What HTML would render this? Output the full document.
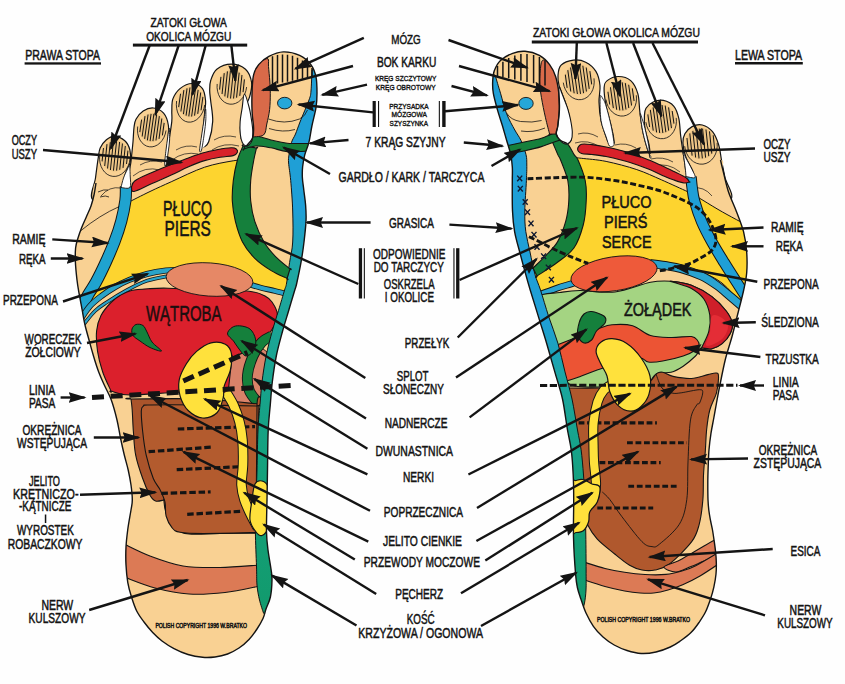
<!DOCTYPE html>
<html lang="pl"><head><meta charset="utf-8"><title>Refleksologia stóp</title>
<style>
html,body{margin:0;padding:0;background:#fefefe;}
body{width:845px;height:684px;overflow:hidden;font-family:"Liberation Sans",sans-serif;}
svg{display:block;}
text{font-family:"Liberation Sans",sans-serif;fill:#141414;}
</style></head><body>
<svg width="845" height="684" viewBox="0 0 845 684">
<defs>
<marker id="ah" markerUnits="userSpaceOnUse" markerWidth="20" markerHeight="12" refX="16" refY="5.4" orient="auto">
<path d="M0,0 L18,5.4 L0,10.8 L2.2,5.4Z" fill="#141414"/></marker>
</defs>
<rect width="845" height="684" fill="#fefefe"/>
<!-- right foot -->
<clipPath id="rc"><path d="M246.4,146 C248.5,145.8 251.3,141 252.5,138 C253.7,135 253.7,132.4 253.6,128 C253.5,123.6 252.3,117.8 252.1,111.7 C251.8,105.6 251.8,97.4 252.1,91.2 C252.3,85 252.5,79.2 253.6,74.8 C254.7,70.4 256.1,67.7 258.7,64.6 C261.2,61.5 264.8,58.5 268.9,56.4 C273,54.3 278.2,52.1 283.3,51.9 C288.4,51.7 295,53.3 299.6,55.4 C304.2,57.5 308.2,61 310.9,64.6 C313.6,68.2 315,72.1 316,76.9 C317,81.7 317,88.2 317,93.3 C317,98.4 316.9,102.1 316,107.6 C315.1,113 313.1,120.2 311.9,126 C310.7,131.8 310.1,137.6 308.9,142.4 C307.7,147.2 305.9,150.6 304.8,154.7 C303.8,158.8 303,163.1 302.6,167 C302.2,170.9 302.2,174.2 302.4,178 C302.6,181.8 303.3,185.5 303.8,190 C304.3,194.5 305.2,199.8 305.6,205 C306,210.2 306.3,215.2 306,221.4 C305.7,227.6 304.8,235.2 304,242 C303.2,248.8 302.2,255.6 301,262.4 C299.8,269.2 297.8,278.4 296.8,283 C295.8,287.6 296.2,285.4 294.8,290 C293.4,294.6 290.7,303.7 288.7,310.5 C286.7,317.3 284.7,323.5 282.6,331 C280.6,338.5 278.1,347 276.4,355.5 C274.7,364 273.3,373.8 272.3,382 C271.3,390.2 271,396.6 270.3,404.6 C269.6,412.6 268.7,419.1 268.2,430 C267.7,440.9 267.7,458.3 267.5,470 C267.3,481.7 267.2,489.7 267,500 C266.8,510.3 266.3,523.7 266.5,532 C266.7,540.3 267.2,543.8 268,550 C268.8,556.2 270.3,564 271,569 C271.7,574 272.1,575.3 272,580 C271.9,584.7 271.4,592.2 270.4,597 C269.4,601.8 267.2,605.4 266,609 C264.8,612.6 264.5,615.2 263,618.5 C261.5,621.8 259.3,625.5 257,629 C254.7,632.5 252,636.3 249,639.5 C246,642.7 242.6,645.6 239,648 C235.4,650.4 231.6,652.5 227.6,654 C223.6,655.5 219.2,656.5 215,657 C210.8,657.5 207.1,657.7 202.6,657.3 C198.1,656.9 192.8,656 188,654.5 C183.2,653 178.3,650.9 174,648.6 C169.7,646.4 165.6,643.7 162,641 C158.4,638.3 155.7,635.8 152.7,632.6 C149.7,629.4 146.7,625.6 144,622 C141.3,618.4 138.8,615.2 136.7,611 C134.6,606.8 133,601.7 131.5,597 C130,592.3 128.7,587.9 127.8,582.6 C126.9,577.3 126.3,570.9 126,565 C125.7,559.1 125.7,552.8 126,547 C126.3,541.2 126.9,536.2 127.7,530 C128.5,523.8 130.2,515 131,510 C131.8,505 132.3,504.2 132.3,500 C132.3,495.8 131.7,490 131,485 C130.3,480 129.3,475 128.2,470 C127.1,465 125.6,460.3 124.3,455 C123,449.7 121.7,443.8 120.5,438 C119.3,432.2 118.5,426.3 117,420 C115.5,413.7 113.4,405.8 111.3,400 C109.2,394.2 106.4,389.7 104.3,385 C102.2,380.3 100.5,376.8 98.7,372 C96.9,367.2 95,361.1 93.5,356 C92,350.9 90.8,346.6 89.4,341.4 C88,336.2 86.2,330.1 85,325 C83.8,319.9 83.3,316 82.3,310.7 C81.3,305.4 79.9,298.1 79,293 C78.1,287.9 77.6,285.2 77,280 C76.4,274.8 75.6,267.3 75.4,262 C75.2,256.7 75.2,252 75.6,248 C76,244 77,241.3 78,238 C79,234.7 80.1,231.6 81.5,228 C82.9,224.4 84.9,220.2 86.5,216.5 C88.1,212.8 89.7,209.8 91,206 C92.3,202.2 93.4,197.8 94.2,194 C95,190.2 91.4,185.3 96,183 C100.6,180.7 113,182.2 122,180 C131,177.8 141.2,173.5 150,170 C158.8,166.5 166.7,162.5 175,159 C183.3,155.5 192.2,151.9 200,149 C207.8,146.1 215.3,143.2 222,141.5 C228.7,139.8 235.9,138.2 240,139 C244.1,139.8 244.3,146.2 246.4,146Z"/></clipPath>
<path d="M93,200 C88.5,196.3 94.6,185 95.5,178 C96.4,171 97.4,163.2 98.2,158.2 C99,153.2 98.8,151.1 100.2,148 C101.6,144.9 104,141.8 106.4,139.8 C108.8,137.8 111.4,135.9 114.5,136.1 C117.6,136.3 122.2,138.5 124.8,140.8 C127.4,143.1 129,146.4 129.9,150 C130.8,153.6 131,158 130.2,162.3 C129.3,166.6 126.1,169.7 124.8,176 C123.5,182.3 127.8,196 122.5,200 C117.2,204 97.5,203.7 93,200Z" fill="#f9d193" stroke="#141414" stroke-width="1.2" stroke-linejoin="round" />
<path d="M127,197 C121.7,192.7 129.9,171.5 130.9,162.3 C131.9,153.1 132.5,147.6 133,141.8 C133.5,136 133.5,131.2 134,127.5 C134.5,123.8 134.5,122 136,119.3 C137.5,116.6 140.3,113 143.2,111.1 C146.1,109.2 150,107.7 153.4,108 C156.8,108.3 161.1,110.3 163.6,113.2 C166.1,116.1 167.7,120.7 168.4,125.5 C169.1,130.3 168.2,135.2 167.7,141.8 C167.2,148.4 166.3,157.3 165.5,165 C164.7,172.7 169.4,182.7 163,188 C156.6,193.3 132.3,201.3 127,197Z" fill="#f9d193" stroke="#141414" stroke-width="1.2" stroke-linejoin="round" />
<path d="M165,182 C159.6,180.4 165.1,169 165.7,162.3 C166.3,155.6 167.8,148.6 168.8,141.8 C169.8,135 171.3,126.5 171.8,121.4 C172.3,116.3 171.6,114.8 171.8,111 C172,107.2 171.5,102.6 172.9,98.9 C174.3,95.2 176.8,91.2 180,88.6 C183.2,86 188.6,83.5 192.3,83.5 C196.1,83.5 200.3,85.7 202.5,88.6 C204.7,91.5 205.2,96.8 205.6,100.9 C205.9,105 205.1,107.5 204.6,113.2 C204.1,118.9 203.3,128.5 202.5,135 C201.7,141.5 200.8,145.8 200,152 C199.2,158.2 203.8,167 198,172 C192.2,177 170.4,183.6 165,182Z" fill="#f9d193" stroke="#141414" stroke-width="1.2" stroke-linejoin="round" />
<path d="M201,165 C194.8,162.5 201.2,153.9 202.5,150 C203.8,146.1 207,146.6 208.7,141.8 C210.4,137 212.4,128.2 212.7,121.4 C213,114.6 211.2,106.1 210.7,101 C210.2,95.9 209.7,94.1 209.7,90.7 C209.7,87.3 209.5,84.1 210.7,80.5 C211.9,76.9 213.4,71.9 216.8,69.2 C220.2,66.5 226.4,64.1 231.2,64.1 C236,64.1 242.1,66.1 245.5,69.2 C248.9,72.3 250.9,77.9 251.6,82.5 C252.3,87.1 251,92 249.6,96.8 C248.2,101.5 244.9,105.9 243.4,111 C241.9,116.1 240.7,122.7 240.4,127.5 C240.1,132.3 240.8,135.7 241.4,139.8 C242,143.9 244.2,147.8 244,152 C243.8,156.2 247.2,162.8 240,165 C232.8,167.2 207.2,167.5 201,165Z" fill="#f9d193" stroke="#141414" stroke-width="1.2" stroke-linejoin="round" />
<path d="M246.4,146 C248.5,145.8 251.3,141 252.5,138 C253.7,135 253.7,132.4 253.6,128 C253.5,123.6 252.3,117.8 252.1,111.7 C251.8,105.6 251.8,97.4 252.1,91.2 C252.3,85 252.5,79.2 253.6,74.8 C254.7,70.4 256.1,67.7 258.7,64.6 C261.2,61.5 264.8,58.5 268.9,56.4 C273,54.3 278.2,52.1 283.3,51.9 C288.4,51.7 295,53.3 299.6,55.4 C304.2,57.5 308.2,61 310.9,64.6 C313.6,68.2 315,72.1 316,76.9 C317,81.7 317,88.2 317,93.3 C317,98.4 316.9,102.1 316,107.6 C315.1,113 313.1,120.2 311.9,126 C310.7,131.8 310.1,137.6 308.9,142.4 C307.7,147.2 305.9,150.6 304.8,154.7 C303.8,158.8 303,163.1 302.6,167 C302.2,170.9 302.2,174.2 302.4,178 C302.6,181.8 303.3,185.5 303.8,190 C304.3,194.5 305.2,199.8 305.6,205 C306,210.2 306.3,215.2 306,221.4 C305.7,227.6 304.8,235.2 304,242 C303.2,248.8 302.2,255.6 301,262.4 C299.8,269.2 297.8,278.4 296.8,283 C295.8,287.6 296.2,285.4 294.8,290 C293.4,294.6 290.7,303.7 288.7,310.5 C286.7,317.3 284.7,323.5 282.6,331 C280.6,338.5 278.1,347 276.4,355.5 C274.7,364 273.3,373.8 272.3,382 C271.3,390.2 271,396.6 270.3,404.6 C269.6,412.6 268.7,419.1 268.2,430 C267.7,440.9 267.7,458.3 267.5,470 C267.3,481.7 267.2,489.7 267,500 C266.8,510.3 266.3,523.7 266.5,532 C266.7,540.3 267.2,543.8 268,550 C268.8,556.2 270.3,564 271,569 C271.7,574 272.1,575.3 272,580 C271.9,584.7 271.4,592.2 270.4,597 C269.4,601.8 267.2,605.4 266,609 C264.8,612.6 264.5,615.2 263,618.5 C261.5,621.8 259.3,625.5 257,629 C254.7,632.5 252,636.3 249,639.5 C246,642.7 242.6,645.6 239,648 C235.4,650.4 231.6,652.5 227.6,654 C223.6,655.5 219.2,656.5 215,657 C210.8,657.5 207.1,657.7 202.6,657.3 C198.1,656.9 192.8,656 188,654.5 C183.2,653 178.3,650.9 174,648.6 C169.7,646.4 165.6,643.7 162,641 C158.4,638.3 155.7,635.8 152.7,632.6 C149.7,629.4 146.7,625.6 144,622 C141.3,618.4 138.8,615.2 136.7,611 C134.6,606.8 133,601.7 131.5,597 C130,592.3 128.7,587.9 127.8,582.6 C126.9,577.3 126.3,570.9 126,565 C125.7,559.1 125.7,552.8 126,547 C126.3,541.2 126.9,536.2 127.7,530 C128.5,523.8 130.2,515 131,510 C131.8,505 132.3,504.2 132.3,500 C132.3,495.8 131.7,490 131,485 C130.3,480 129.3,475 128.2,470 C127.1,465 125.6,460.3 124.3,455 C123,449.7 121.7,443.8 120.5,438 C119.3,432.2 118.5,426.3 117,420 C115.5,413.7 113.4,405.8 111.3,400 C109.2,394.2 106.4,389.7 104.3,385 C102.2,380.3 100.5,376.8 98.7,372 C96.9,367.2 95,361.1 93.5,356 C92,350.9 90.8,346.6 89.4,341.4 C88,336.2 86.2,330.1 85,325 C83.8,319.9 83.3,316 82.3,310.7 C81.3,305.4 79.9,298.1 79,293 C78.1,287.9 77.6,285.2 77,280 C76.4,274.8 75.6,267.3 75.4,262 C75.2,256.7 75.2,252 75.6,248 C76,244 77,241.3 78,238 C79,234.7 80.1,231.6 81.5,228 C82.9,224.4 84.9,220.2 86.5,216.5 C88.1,212.8 89.7,209.8 91,206 C92.3,202.2 93.4,197.8 94.2,194 C95,190.2 91.4,185.3 96,183 C100.6,180.7 113,182.2 122,180 C131,177.8 141.2,173.5 150,170 C158.8,166.5 166.7,162.5 175,159 C183.3,155.5 192.2,151.9 200,149 C207.8,146.1 215.3,143.2 222,141.5 C228.7,139.8 235.9,138.2 240,139 C244.1,139.8 244.3,146.2 246.4,146Z" fill="#f9d193"/>
<path d="M101,196 q8,-10 20,-8 M133,176 q12,-10 27,-6 M140,165 q10,-6 22,-3 M172,160 q12,-9 26,-6 M176,150 q10,-6 21,-3 M212,150 q12,-8 27,-4 M214,140 q10,-6 22,-3" fill="none" stroke="#141414" stroke-width="0.7"/>
<g transform="rotate(6 232 84.5)">
<ellipse cx="232" cy="84.5" rx="13.3" ry="14.8" fill="#ecc485"/>
<path d="M220.2,78.1 V90.9 M223.1,74 V95 M226.1,71.9 V97.1 M229,70.8 V98.2 M232,70.4 V98.6 M235,70.8 V98.2 M237.9,71.9 V97.1 M240.9,74 V95 M243.8,78.1 V90.9 " stroke="#141414" stroke-width="1" fill="none"/>
<path d="M217.2,85.5 A14.8,18.8 0 0 0 246.8,85.5" stroke="#141414" stroke-width="0.8" fill="none"/>
</g>
<g transform="rotate(8 190.8 102)">
<ellipse cx="190.8" cy="102" rx="12.7" ry="15.3" fill="#ecc485"/>
<path d="M179.5,95.3 V108.7 M182.3,91.2 V112.8 M185.2,89 V115 M188,87.8 V116.2 M190.8,87.5 V116.5 M193.6,87.8 V116.2 M196.4,89 V115 M199.3,91.2 V112.8 M202.1,95.3 V108.7 " stroke="#141414" stroke-width="1" fill="none"/>
<path d="M176.6,103 A14.2,19.3 0 0 0 205,103" stroke="#141414" stroke-width="0.8" fill="none"/>
</g>
<g transform="rotate(8 152 127.5)">
<ellipse cx="152" cy="127.5" rx="12.8" ry="14.5" fill="#ecc485"/>
<path d="M140.6,121.2 V133.8 M143.5,117.2 V137.8 M146.3,115.2 V139.8 M149.2,114.1 V140.9 M152,113.7 V141.3 M154.8,114.1 V140.9 M157.7,115.2 V139.8 M160.5,117.2 V137.8 M163.4,121.2 V133.8 " stroke="#141414" stroke-width="1" fill="none"/>
<path d="M137.7,128.5 A14.3,18.5 0 0 0 166.3,128.5" stroke="#141414" stroke-width="0.8" fill="none"/>
</g>
<g transform="rotate(6 115 156)">
<ellipse cx="115" cy="156" rx="13.8" ry="15.5" fill="#ecc485"/>
<path d="M102.7,149.3 V162.7 M105.8,145 V167 M108.9,142.8 V169.2 M111.9,141.6 V170.4 M115,141.3 V170.7 M118.1,141.6 V170.4 M121.1,142.8 V169.2 M124.2,145 V167 M127.3,149.3 V162.7 " stroke="#141414" stroke-width="1" fill="none"/>
<path d="M99.7,157 A15.3,19.5 0 0 0 130.3,157" stroke="#141414" stroke-width="0.8" fill="none"/>
</g>
<g clip-path="url(#rc)">
<path d="M127,203 C127.5,202.7 123.2,204.9 127,203 C130.8,201.1 142.5,195.1 150,191.5 C157.5,187.9 162.7,185.6 171.8,181.5 C180.9,177.4 194.4,170.6 204.6,167.2 C214.8,163.8 225.6,162.1 233.2,160.8 C240.8,159.5 247.2,159.7 250,159.5 C252.8,159.3 248,152.8 250,159.5 C252,166.2 257.8,184.9 262,200 C266.2,215.1 270.2,238 275,250 C279.8,262 288.3,268.3 291,272 C293.7,275.7 291.3,268.3 291,272 C290.7,275.7 289.3,290.3 289,294 C288.7,297.7 292.2,294.7 289,294 C285.8,293.3 276,291.5 270,290 C264,288.5 259.5,287.8 252.8,285 C246.1,282.2 237.3,276.2 230,273 C222.7,269.8 219.7,266.5 209,266 C198.3,265.5 179.3,267.8 166,270 C152.7,272.2 139.8,275.2 129,279.5 C118.2,283.8 108.3,290.9 101.5,296 C94.7,301.1 90.2,307.7 88,310 C85.8,312.3 87.7,313.3 88,310 C88.3,306.7 88,297 90,290 C92,283 96.7,275.3 100,268 C103.3,260.7 106.7,254 110,246 C113.3,238 117.7,226.8 120,220 C122.3,213.2 122.8,207.8 124,205 C125.2,202.2 126.5,203.3 127,203Z" fill="#fdd42f" stroke="#141414" stroke-width="1" stroke-linejoin="round" />
<path d="M254,150 C254.5,145 248,149.7 254,150 C260,150.3 284,151.7 290,152 C296,152.3 289.5,142.2 290,152 C290.5,161.8 292.7,194.7 293,211 C293.3,227.3 292.7,240.5 292,250 C291.3,259.5 289.5,265 289,268 C288.5,271 292.2,270.7 289,268 C285.8,265.3 275.5,259.2 270,252 C264.5,244.8 259.2,233.7 256,225 C252.8,216.3 251.8,207.5 251,200 C250.2,192.5 250.5,188.3 251,180 C251.5,171.7 253.5,155 254,150Z" fill="#f9d193" stroke="none" stroke-width="1.2" stroke-linejoin="round" />
<path d="M125.9,186.5 C125.8,188.8 126.2,194.8 125.4,200.5 C124.6,206.2 123.1,214.2 121.3,221 C119.5,227.8 117.2,234.6 114.6,241.4 C112,248.2 109,255.1 105.9,261.9 C102.8,268.7 99,276.5 96,282 C93,287.5 90.5,290.5 88,295 C85.5,299.5 83,304.8 81,309 C79,313.2 76.8,318.2 76,320" fill="none" stroke="#141414" stroke-width="12.2" stroke-linecap="butt" stroke-linejoin="round"/>
<path d="M125.9,186.5 C125.8,188.8 126.2,194.8 125.4,200.5 C124.6,206.2 123.1,214.2 121.3,221 C119.5,227.8 117.2,234.6 114.6,241.4 C112,248.2 109,255.1 105.9,261.9 C102.8,268.7 99,276.5 96,282 C93,287.5 90.5,290.5 88,295 C85.5,299.5 83,304.8 81,309 C79,313.2 76.8,318.2 76,320" fill="none" stroke="#1fa3cf" stroke-width="10.2" stroke-linecap="butt" stroke-linejoin="round"/>
<path d="M80,320 C81.7,317.7 86.4,310 90,306 C93.6,302 97.3,299.2 101.5,296 C105.7,292.8 110.4,289.7 115,287 C119.6,284.3 123.7,282.2 129,280 C134.3,277.8 140.8,275.6 147,274 C153.2,272.4 160.5,271.2 166,270.5 C171.5,269.8 177.7,270.1 180,270" fill="none" stroke="#141414" stroke-width="6.2" stroke-linecap="butt" stroke-linejoin="round"/>
<path d="M80,320 C81.7,317.7 86.4,310 90,306 C93.6,302 97.3,299.2 101.5,296 C105.7,292.8 110.4,289.7 115,287 C119.6,284.3 123.7,282.2 129,280 C134.3,277.8 140.8,275.6 147,274 C153.2,272.4 160.5,271.2 166,270.5 C171.5,269.8 177.7,270.1 180,270" fill="none" stroke="#2aa3c8" stroke-width="4.5" stroke-linecap="butt" stroke-linejoin="round"/>
<path d="M245,283 C247.5,283.8 255,286.2 260,287.5 C265,288.8 270,289.8 275,291 C280,292.2 287.5,294.3 290,295" fill="none" stroke="#141414" stroke-width="5.8" stroke-linecap="butt" stroke-linejoin="round"/>
<path d="M245,283 C247.5,283.8 255,286.2 260,287.5 C265,288.8 270,289.8 275,291 C280,292.2 287.5,294.3 290,295" fill="none" stroke="#2aa3c8" stroke-width="4" stroke-linecap="butt" stroke-linejoin="round"/>
<path d="M84,324 C85.8,321.8 91.3,314.5 95,311 C98.7,307.5 100.8,306.2 106,302.8 C111.2,299.4 119.6,294.2 126.4,290.5 C133.2,286.8 140.4,283.1 146.9,280.8 C153.4,278.5 160.6,277.4 165.3,276.6 C170,275.8 173.4,276.1 175,276" fill="none" stroke="#141414" stroke-width="3.7" stroke-linecap="butt" stroke-linejoin="round"/>
<path d="M84,324 C85.8,321.8 91.3,314.5 95,311 C98.7,307.5 100.8,306.2 106,302.8 C111.2,299.4 119.6,294.2 126.4,290.5 C133.2,286.8 140.4,283.1 146.9,280.8 C153.4,278.5 160.6,277.4 165.3,276.6 C170,275.8 173.4,276.1 175,276" fill="none" stroke="#2aa3c8" stroke-width="2.2" stroke-linecap="butt" stroke-linejoin="round"/>
<path d="M80.4,231 Q100,215 119.2,206.6 M98,192 q6,-3 10,-2 M100,197 q6,-2 9,0" fill="none" stroke="#141414" stroke-width="0.8"/>
<path d="M131.5,187 C131.1,186.2 130.9,188.1 131.5,187 C132.1,185.9 131.6,183.1 135,180.7 C138.4,178.3 145.9,175.2 152,172.5 C158.1,169.8 166,166.6 171.8,164.3 C177.6,162 181.9,160.4 187,158.5 C192.1,156.6 197.3,154.5 202.5,153 C207.7,151.5 213.2,150.4 218,149.5 C222.8,148.6 228.1,147.9 231.2,147.8 C234.2,147.7 235.3,148.2 236.3,149 C237.3,149.8 237.8,151.4 237.3,152.5 C236.8,153.6 236.1,154.8 233.2,155.6 C230.3,156.4 224.8,156.4 220,157.2 C215.2,158 209.9,159 204.6,160.6 C199.3,162.2 193.5,164.6 188,167 C182.5,169.4 177.8,172.1 171.8,174.8 C165.8,177.6 158.3,180.7 152,183.5 C145.7,186.3 137.4,190.9 134,191.5 C130.6,192.1 131.9,187.8 131.5,187Z" fill="#d8212a" stroke="#141414" stroke-width="1.1" stroke-linejoin="round" />
<path d="M225,357 L258,345 L267,352 L262,404.5 L225,404.5Z" fill="#d98269" stroke="#141414" stroke-width="0.9"/>
<path d="M96.6,331 C97.2,325 98.6,320.2 101,315.5 C103.4,310.8 107.8,305.8 111,302.5 C114.2,299.2 116.6,297.5 120,295.5 C123.4,293.5 126.4,291.6 131.4,290.5 C136.4,289.4 143.9,289 150,288.6 C156.1,288.2 162.5,288.1 168,288.2 C173.5,288.3 175.2,288.7 183,289 C190.8,289.3 203.7,289.6 215,290 C226.3,290.4 242.5,290.5 250.8,291.5 C259.1,292.5 261.5,294.2 265,296 C268.5,297.8 269.9,298.9 272,302 C274.1,305.1 277.3,310.1 277.4,314.6 C277.4,319.1 274.9,324.6 272.3,329 C269.7,333.4 265.7,337.6 262,341 C258.3,344.4 255,346.8 250,349.5 C245,352.2 235,356.2 232,357.5 C229,358.8 232.7,351.6 232,357.5 C231.3,363.4 228.7,387.1 228,393 C227.3,398.9 235.5,393.2 228,393 C220.5,392.8 199.3,391.7 183,392 C166.7,392.3 142,395.2 130,395 C118,394.8 114.2,391.7 111,391 C107.8,390.3 112.4,394.2 111,391 C109.6,387.8 104.9,378.6 102.7,372 C100.5,365.4 98.6,358.4 97.6,351.6 C96.6,344.8 96,337 96.6,331Z" fill="#db202c" stroke="#141414" stroke-width="1.1" stroke-linejoin="round" />
<ellipse cx="209.5" cy="279.5" rx="43.5" ry="16.6" transform="rotate(4 209.5 279.5)" fill="#e68866" stroke="#141414" stroke-width="0.9"/>
<path d="M132,329 C132.5,327.2 134.2,325.1 136,324.5 C137.8,323.9 141.2,324.2 143,325.5 C144.8,326.8 145.5,329.2 147,332 C148.5,334.8 149.6,338.8 152,342 C154.4,345.2 161.8,350.1 161.5,351 C161.2,351.9 153.6,349.2 150,347.5 C146.4,345.8 142.8,343 140,341 C137.2,339 134.3,337.5 133,335.5 C131.7,333.5 131.5,330.8 132,329Z" fill="#15803c" stroke="#141414" stroke-width="1" stroke-linejoin="round" />
<path d="M272,336 C270.3,337 265.2,338.7 262,342 C258.8,345.3 255.4,350.5 253,356 C250.6,361.5 248.1,369.2 247.5,375 C246.9,380.8 247.6,386.2 249.5,391 C251.4,395.8 257.4,401.8 259,404" fill="none" stroke="#141414" stroke-width="10.8" stroke-linecap="butt" stroke-linejoin="round"/>
<path d="M272,336 C270.3,337 265.2,338.7 262,342 C258.8,345.3 255.4,350.5 253,356 C250.6,361.5 248.1,369.2 247.5,375 C246.9,380.8 247.6,386.2 249.5,391 C251.4,395.8 257.4,401.8 259,404" fill="none" stroke="#15803c" stroke-width="9" stroke-linecap="butt" stroke-linejoin="round"/>
<path d="M227.5,334 C227.2,331.8 230,328.9 232,327.5 C234,326.1 236.6,325.6 239.6,325.8 C242.6,326.1 247.3,326.8 250,329 C252.7,331.2 254.8,335.5 255.5,339 C256.2,342.5 255.6,347.2 254,350 C252.4,352.8 248.5,356.2 246,356 C243.5,355.8 241.1,351.5 239,349 C236.9,346.5 235.4,343.5 233.5,341 C231.6,338.5 227.8,336.2 227.5,334Z" fill="#15803c" stroke="#141414" stroke-width="1" stroke-linejoin="round" />
<path d="M131,399 C130.8,397.2 119.5,399 131,399 C142.5,399 178.7,398.2 200,399 C221.3,399.8 249.2,403.2 259,404 C268.8,404.8 259.3,393 259,404 C258.7,415 257.6,448.5 257,470 C256.4,491.5 255.8,522.5 255.5,533 C255.2,543.5 261.4,532.9 255.5,533 C249.6,533.1 231.1,533.3 220,533.5 C208.9,533.7 196.2,534.8 189,534 C181.8,533.2 180.8,532.3 177,529 C173.2,525.7 168.7,518.8 166.5,514 C164.3,509.2 164.2,502.3 163.8,500 C163.4,497.7 165.2,499.8 163.8,500 C162.4,500.2 157.9,501.8 155.6,501 C153.3,500.2 152,498.8 149.8,495 C147.7,491.2 145,485.1 142.7,478.5 C140.3,471.9 137.2,463 135.7,455.2 C134.1,447.4 134,439.3 133.4,431.8 C132.8,424.3 132.6,415.5 132.2,410 C131.8,404.5 131.2,400.8 131,399Z" fill="#aa542b" stroke="#141414" stroke-width="1.1" stroke-linejoin="round" />
<path d="M141.3,411 C141.4,406.7 142.1,407 143.5,406 C144.9,405 140.6,405.2 150,405 C159.4,404.8 182.2,404.8 200,405 C217.8,405.2 247.5,405.8 257,406 C266.5,406.2 257.2,384.9 257,406 C256.8,427.1 256.2,511.4 256,532.5 C255.8,553.6 264.8,532.3 256,532.5 C247.2,532.7 216.1,533.5 203.5,533.5 C190.9,533.5 185.4,533.3 180.2,532.3 C174.9,531.3 174.3,530.4 172,527.7 C169.7,525 167.3,520.3 166.1,516 C164.9,511.7 166,506.3 165,502 C164,497.7 162.2,494.1 160.3,490.2 C158.4,486.3 155.7,484.3 153.3,478.5 C151,472.7 148,463 146.2,455.2 C144.4,447.4 143.5,439.2 142.7,431.8 C141.9,424.4 141.2,415.3 141.3,411Z" fill="#b35b2e" stroke="#141414" stroke-width="1.1" stroke-linejoin="round" />
<path d="M177.8,429 L255,426.6" stroke="#141414" stroke-width="3.2" stroke-dasharray="6.5,2.8" fill="none"/>
<path d="M148.6,451.7 L212.9,447" stroke="#141414" stroke-width="3.2" stroke-dasharray="6.5,2.8" fill="none"/>
<path d="M176.7,469.7 L246.8,466.4" stroke="#141414" stroke-width="3.2" stroke-dasharray="6.5,2.8" fill="none"/>
<path d="M161.4,493.3 L210.6,491.9" stroke="#141414" stroke-width="3.2" stroke-dasharray="6.5,2.8" fill="none"/>
<path d="M187.2,514.3 L242.1,511.3" stroke="#141414" stroke-width="3.2" stroke-dasharray="6.5,2.8" fill="none"/>
<path d="M124,544 C124,538.5 119.7,542 124,544 C128.3,546 140.2,552.3 150,556 C159.8,559.7 171.3,564.1 183,566 C194.7,567.9 207.2,567.7 220,567.5 C232.8,567.3 253.3,565.4 260,565 C266.7,564.6 260,561.5 260,565 C260,568.5 260,582.5 260,586 C260,589.5 265.8,584.9 260,586 C254.2,587.1 236.8,591.2 225,592.5 C213.2,593.8 200.7,594.8 189,594 C177.3,593.2 165.8,590.8 155,588 C144.2,585.2 129.2,578.8 124,577 C118.8,575.2 124,582.5 124,577 C124,571.5 124,549.5 124,544Z" fill="#dc7a55" stroke="#141414" stroke-width="1.1" stroke-linejoin="round" />
<path d="M226,392 C227.2,394.2 231.2,400 233.5,405 C235.8,410 238,416.2 239.5,422 C241,427.8 241.9,432.8 242.5,440 C243.1,447.2 243.2,457.5 243,465 C242.8,472.5 241.2,479.2 241.5,485 C241.8,490.8 242.9,495 244.5,500 C246.1,505 248.8,510.3 251,515 C253.2,519.7 256.8,525.8 258,528" fill="none" stroke="#141414" stroke-width="10.5" stroke-linecap="butt" stroke-linejoin="round"/>
<path d="M226,392 C227.2,394.2 231.2,400 233.5,405 C235.8,410 238,416.2 239.5,422 C241,427.8 241.9,432.8 242.5,440 C243.1,447.2 243.2,457.5 243,465 C242.8,472.5 241.2,479.2 241.5,485 C241.8,490.8 242.9,495 244.5,500 C246.1,505 248.8,510.3 251,515 C253.2,519.7 256.8,525.8 258,528" fill="none" stroke="#ffe13c" stroke-width="8.5" stroke-linecap="butt" stroke-linejoin="round"/>
<path d="M211,342.8 C215.8,341.6 221.9,342.4 225.3,344.2 C228.7,346 230.6,349.1 231.4,353.4 C232.2,357.7 231.6,364.3 230.4,369.8 C229.2,375.3 225.4,381.5 224.2,386.2 C223,390.9 224.4,393.6 223.2,398 C222,402.4 220.4,409.5 217,412.8 C213.6,416.1 207.5,418.3 202.7,418 C197.9,417.7 192.2,414.4 188.4,410.8 C184.7,407.2 181.7,401.5 180.2,396.4 C178.7,391.3 178.2,385.4 179.2,380 C180.2,374.6 183.5,368.5 186.4,363.7 C189.3,358.9 192.5,354.9 196.6,351.4 C200.7,347.9 206.2,344 211,342.8Z" fill="#ffe13c" stroke="#141414" stroke-width="1.2" stroke-linejoin="round" />
</g>
<linearGradient id="rg" gradientUnits="userSpaceOnUse" x1="0" y1="60" x2="0" y2="620"><stop offset="0" stop-color="#1f9fd6"/><stop offset="0.27" stop-color="#1f9fd6"/><stop offset="0.38" stop-color="#1ea7a2"/><stop offset="0.75" stop-color="#13a07a"/><stop offset="1" stop-color="#129a6c"/></linearGradient>
<g clip-path="url(#rc)">
<path d="M312,70 C311.8,73.5 311.5,86 311,91 C310.5,96 310.8,94.8 309,100 C307.2,105.2 302.2,116.3 300,122 C297.8,127.7 296.9,130.6 295.5,134 C294.1,137.4 292.6,138.9 291.5,142.4 C290.4,145.9 289.5,151.6 289,155 C288.5,158.4 288.3,158.8 288.6,163 C288.9,167.2 290,172.5 290.7,180.5 C291.4,188.5 292.4,200.8 292.7,211 C293,221.2 293.2,233.4 292.7,242 C292.2,250.6 290.6,255.6 289.6,262.4 C288.6,269.2 287.4,278.4 286.6,283 C285.8,287.6 286,285.4 284.6,290 C283.2,294.6 280.6,303.7 278.5,310.5 C276.4,317.3 274.4,323.5 272.3,331 C270.2,338.5 267.9,347 266.2,355.5 C264.5,364 263,373.8 262,382 C261,390.2 260.7,396.6 260,404.6 C259.3,412.6 258.5,419.1 258,430 C257.5,440.9 257.3,458.3 257,470 C256.7,481.7 256.3,489.7 256,500 C255.7,510.3 255.3,521 255.4,532 C255.5,543 256.2,557.2 256.5,566 C256.8,574.8 256.5,579.3 257,585 C257.5,590.7 258.4,595.3 259.5,600 C260.6,604.7 262.8,610.8 263.5,613 L290,640 L340,600 L340,60Z" fill="url(#rg)" stroke="#141414" stroke-width="1"/>
<path d="M255,484 C256.7,480.8 259.8,480.5 262,481 C264.2,481.5 266.7,482.2 268,487 C269.3,491.8 270,503.2 270,510 C270,516.8 269.3,523.8 268,528 C266.7,532.2 264,534.8 262,535.5 C260,536.2 258,534.6 256,532 C254,529.4 250.7,525.3 250,520 C249.3,514.7 251.2,506 252,500 C252.8,494 253.3,487.2 255,484Z" fill="#ffe13c" stroke="#141414" stroke-width="1.2" stroke-linejoin="round" />
</g>
<g clip-path="url(#rc)">
<path d="M243,146 C240.8,145.7 243.9,143.7 243,146 C242.1,148.3 239,154.2 237.4,160 C235.8,165.8 234.2,173.7 233.3,180.5 C232.5,187.3 232,194.2 232.3,201 C232.7,207.8 233.7,214.6 235.4,221.4 C237.1,228.2 239.3,235.8 242.5,242 C245.7,248.2 250,253.5 254.8,258.3 C259.6,263.1 265.8,267.2 271.2,270.6 C276.6,274 284.4,277.2 287,278.5 C289.6,279.8 286.5,280.1 287,278.5 C287.5,276.9 289.5,270.6 290,269 C290.5,267.4 292.4,271.1 290,269 C287.6,266.9 279.6,260.8 275.3,256.3 C271,251.8 267.4,247.8 264,242 C260.6,236.2 257,228.2 254.8,221.4 C252.6,214.6 251.4,207.8 250.7,201 C250,194.2 250.2,187.3 250.7,180.5 C251.2,173.7 252.8,165.4 253.8,160 C254.8,154.6 256.1,150 256.5,148 C256.9,146 258.8,148.3 256.5,148 C254.2,147.7 245.2,146.3 243,146Z" fill="#15803c" stroke="#141414" stroke-width="1.1" stroke-linejoin="round" />
<path d="M249,136.5 C249.8,134.4 247.8,136.6 249,136.5 C250.2,136.4 252.3,135.2 256,135.8 C259.7,136.4 265.8,138.8 271,140 C276.2,141.2 280.6,142.6 287.4,143.2 C294.2,143.8 307.9,143.4 312,143.4 C316.1,143.4 312.3,142.1 312,143.4 C311.7,144.7 310.3,149.7 310,151 C309.7,152.3 313.8,150.9 310,151 C306.2,151.1 293.9,152.1 287.4,151.6 C280.9,151.1 276.2,148.7 271,147.8 C265.8,146.9 260.5,145.8 256,146 C251.5,146.2 246,148.5 244,149 C242,149.5 243.2,151.1 244,149 C244.8,146.9 248.2,138.6 249,136.5Z" fill="#15803c" stroke="#141414" stroke-width="1.1" stroke-linejoin="round" />
<path d="M262,61 C264.2,59.8 266.9,57.9 268,58.8 C269.1,59.7 268.2,62.9 268.5,66.6 C268.8,70.3 269.5,76.5 269.8,81 C270.1,85.5 270.3,88.5 270.3,93.3 C270.3,98.1 270.2,104.5 269.6,109.6 C269,114.7 267.8,119.8 266.8,124 C265.8,128.2 266.3,132.8 263.5,135 C260.7,137.2 252.2,136.7 250,137 C247.8,137.3 250.3,141.5 250,137 C249.7,132.5 248,119.5 248,110 C248,100.5 248.8,87.3 250,80 C251.2,72.7 253,69.2 255,66 C257,62.8 259.8,62.2 262,61Z" fill="#d96a49" stroke="#141414" stroke-width="1" stroke-linejoin="round" />
<path d="M272.5,56.3 V84.5 M277.5,55 V83.6 M282.5,54.4 V82.6 M287.5,54.7 V81.7 M292.5,55.8 V80.7 M297.5,57.8 V79.8 M302.5,60.5 V78.8 M307.5,64.2 V77.9 M312,68.1 V77 " stroke="#141414" stroke-width="1.5" fill="none"/>
<ellipse cx="284.7" cy="103.1" rx="7.2" ry="5.8" fill="#25a7d8" stroke="#141414" stroke-width="0.9"/>
<path d="M268.5,119 q16,6 31,0 q6,-3 8,-9 M269,128.5 q14,4.5 26,1" fill="none" stroke="#141414" stroke-width="0.8"/>
</g>
<path d="M244.5,94 C245.7,94.1 248.1,103.3 249.3,108 C250.5,112.7 251.2,118 251.8,122 C252.4,126 252.8,128.9 252.8,132 C252.8,135.1 252.7,138.3 252,140.5 C251.3,142.7 249.6,144.4 248.5,145.3 C247.4,146.2 246.5,146.3 245.5,145.8 C244.5,145.3 243.2,144.3 242.3,142.4 C241.4,140.5 240.7,137.6 240.3,134.2 C239.9,130.8 239.8,126.4 240.1,122 C240.4,117.6 241.5,112.3 242.2,107.6 C242.9,102.9 243.3,93.9 244.5,94Z" fill="#fefefe" stroke="#141414" stroke-width="1.1" stroke-linejoin="round" />
<path d="M129.5,166 C130,167 130.1,172.4 130.2,176 C130.3,179.6 131.4,185.6 129.9,187.5 C128.4,189.4 122.5,187.5 121,187.5 C119.5,187.5 120.6,189.1 121,187.5 C121.4,185.9 122.5,180.9 123.5,178 C124.5,175.1 126,172 127,170 C128,168 129,165 129.5,166Z" fill="#fefefe" stroke="#141414" stroke-width="0.9" stroke-linejoin="round" />
<path d="M169.2,128 C169.5,128.3 169.8,136 169.6,140 C169.4,144 168.8,147.9 168.2,152 C167.6,156.1 166.8,162.2 166.2,164.3 C165.6,166.4 164.6,166.7 164.6,164.3 C164.6,161.9 165.5,154.4 166,150 C166.5,145.6 167.1,141.7 167.6,138 C168.1,134.3 168.9,127.7 169.2,128Z" fill="#fefefe" stroke="#141414" stroke-width="0.9" stroke-linejoin="round" />
<path d="M205.6,109 C205.9,109 206,115.8 205.8,120 C205.6,124.2 204.9,129 204.2,134 C203.5,139 202.3,147.3 201.5,150 C200.7,152.7 199.5,152.7 199.6,150 C199.7,147.3 201.1,139 201.8,134 C202.5,129 203.4,124.2 204,120 C204.6,115.8 205.3,109 205.6,109Z" fill="#fefefe" stroke="#141414" stroke-width="0.9" stroke-linejoin="round" />
<path d="M246.4,146 C247.4,144.7 251.3,141 252.5,138 C253.7,135 253.7,132.4 253.6,128 C253.5,123.6 252.3,117.8 252.1,111.7 C251.8,105.6 251.8,97.4 252.1,91.2 C252.3,85 252.5,79.2 253.6,74.8 C254.7,70.4 256.1,67.7 258.7,64.6 C261.2,61.5 264.8,58.5 268.9,56.4 C273,54.3 278.2,52.1 283.3,51.9 C288.4,51.7 295,53.3 299.6,55.4 C304.2,57.5 308.2,61 310.9,64.6 C313.6,68.2 315,72.1 316,76.9 C317,81.7 317,88.2 317,93.3 C317,98.4 316.9,102.1 316,107.6 C315.1,113 313.1,120.2 311.9,126 C310.7,131.8 310.1,137.6 308.9,142.4 C307.7,147.2 305.9,150.6 304.8,154.7 C303.8,158.8 303,163.1 302.6,167 C302.2,170.9 302.2,174.2 302.4,178 C302.6,181.8 303.3,185.5 303.8,190 C304.3,194.5 305.2,199.8 305.6,205 C306,210.2 306.3,215.2 306,221.4 C305.7,227.6 304.8,235.2 304,242 C303.2,248.8 302.2,255.6 301,262.4 C299.8,269.2 297.8,278.4 296.8,283 C295.8,287.6 296.2,285.4 294.8,290 C293.4,294.6 290.7,303.7 288.7,310.5 C286.7,317.3 284.7,323.5 282.6,331 C280.6,338.5 278.1,347 276.4,355.5 C274.7,364 273.3,373.8 272.3,382 C271.3,390.2 271,396.6 270.3,404.6 C269.6,412.6 268.7,419.1 268.2,430 C267.7,440.9 267.7,458.3 267.5,470 C267.3,481.7 267.2,489.7 267,500 C266.8,510.3 266.3,523.7 266.5,532 C266.7,540.3 267.2,543.8 268,550 C268.8,556.2 270.3,564 271,569 C271.7,574 272.1,575.3 272,580 C271.9,584.7 271.4,592.2 270.4,597 C269.4,601.8 267.2,605.4 266,609 C264.8,612.6 264.5,615.2 263,618.5 C261.5,621.8 259.3,625.5 257,629 C254.7,632.5 252,636.3 249,639.5 C246,642.7 242.6,645.6 239,648 C235.4,650.4 231.6,652.5 227.6,654 C223.6,655.5 219.2,656.5 215,657 C210.8,657.5 207.1,657.7 202.6,657.3 C198.1,656.9 192.8,656 188,654.5 C183.2,653 178.3,650.9 174,648.6 C169.7,646.4 165.6,643.7 162,641 C158.4,638.3 155.7,635.8 152.7,632.6 C149.7,629.4 146.7,625.6 144,622 C141.3,618.4 138.8,615.2 136.7,611 C134.6,606.8 133,601.7 131.5,597 C130,592.3 128.7,587.9 127.8,582.6 C126.9,577.3 126.3,570.9 126,565 C125.7,559.1 125.7,552.8 126,547 C126.3,541.2 126.9,536.2 127.7,530 C128.5,523.8 130.2,515 131,510 C131.8,505 132.3,504.2 132.3,500 C132.3,495.8 131.7,490 131,485 C130.3,480 129.3,475 128.2,470 C127.1,465 125.6,460.3 124.3,455 C123,449.7 121.7,443.8 120.5,438 C119.3,432.2 118.5,426.3 117,420 C115.5,413.7 113.4,405.8 111.3,400 C109.2,394.2 106.4,389.7 104.3,385 C102.2,380.3 100.5,376.8 98.7,372 C96.9,367.2 95,361.1 93.5,356 C92,350.9 90.8,346.6 89.4,341.4 C88,336.2 86.2,330.1 85,325 C83.8,319.9 83.3,316 82.3,310.7 C81.3,305.4 79.9,298.1 79,293 C78.1,287.9 77.6,285.2 77,280 C76.4,274.8 75.6,267.3 75.4,262 C75.2,256.7 75.2,252 75.6,248 C76,244 77,241.3 78,238 C79,234.7 80.1,231.6 81.5,228 C82.9,224.4 84.9,220.2 86.5,216.5 C88.1,212.8 89.7,209.8 91,206 C92.3,202.2 93.4,197.8 94.2,194 C95,190.2 95.7,184.8 96,183" fill="none" stroke="#141414" stroke-width="1.4" stroke-linejoin="round"/>
<path d="M92,397.5 L295,385.2" stroke="#141414" stroke-width="5" stroke-dasharray="12,6.7" fill="none"/>
<path d="M183.3,381 L247.5,352.5" stroke="#141414" stroke-width="5" stroke-dasharray="11.5,5.3" fill="none"/>
<text x="163" y="216" font-size="21.5" textLength="49" lengthAdjust="spacingAndGlyphs" fill="#141414" stroke="#141414" stroke-width="0.55">PŁUCO</text>
<text x="164.6" y="236.3" font-size="21.5" textLength="46.2" lengthAdjust="spacingAndGlyphs" fill="#141414" stroke="#141414" stroke-width="0.55">PIERŚ</text>
<text x="146" y="320.8" font-size="21.5" textLength="75.5" lengthAdjust="spacingAndGlyphs" fill="#2a0608" stroke="#2a0608" stroke-width="0.55">WĄTROBA</text>
<text x="155.4" y="627.6" font-size="7.2" textLength="91.6" lengthAdjust="spacingAndGlyphs" fill="#141414" stroke="#141414" stroke-width="0.55">POLISH COPYRIGHT 1996 W.BRATKO</text>
<!-- left foot -->
<clipPath id="lc"><path d="M567,143.4 C564,143.8 561.8,141.6 560,140 C558.2,138.4 556.5,136.4 556.1,134.1 C555.7,131.8 557.2,130.1 557.8,126 C558.3,121.9 559.2,115.1 559.4,109.6 C559.6,104.1 559.4,98.7 558.8,93.2 C558.2,87.7 557.2,81.6 555.7,76.8 C554.2,72 552.3,68.2 549.6,64.6 C546.9,61 543.5,57.6 539.4,55.4 C535.3,53.2 529.5,51.6 525,51.3 C520.5,50.9 516.8,51.8 512.7,53.3 C508.6,54.8 503.6,57.6 500.5,60.5 C497.4,63.4 495.6,67.3 494.3,70.7 C493,74.1 492.9,77.2 492.7,81 C492.5,84.8 492.5,88.4 493.3,93.2 C494.1,98 495.9,104.1 497.4,109.6 C498.9,115.1 501,120.9 502.5,126 C504,131.1 505.2,135.5 506.6,140.3 C508,145.1 509.8,150.2 510.7,154.6 C511.6,159 512,162.6 512.3,166.9 C512.6,171.2 512.3,173.2 512.3,180.5 C512.3,187.8 512.1,202.5 512.5,211 C512.9,219.5 513.4,224.8 514.6,231.6 C515.8,238.4 517.8,244.8 519.7,252 C521.6,259.2 524,268.3 525.8,274.6 C527.5,280.9 528.1,283 530.2,290 C532.3,297 535.7,307.7 538.4,316.6 C541.1,325.5 543.9,334 546.6,343.2 C549.3,352.4 552.1,362.6 554.8,371.9 C557.4,381.2 560.4,389.3 562.5,399 C564.6,408.7 566,421.6 567.5,430 C569,438.4 570.2,442.2 571.2,449.7 C572.2,457.2 572.8,466.7 573.2,475 C573.6,483.3 573.7,489.1 573.7,499.4 C573.8,509.7 573.2,524.5 573.5,537 C573.8,549.5 574.9,565.9 575.6,574.4 C576.3,582.9 576.6,583.9 577.5,588 C578.4,592.1 579.6,595.1 581,599.3 C582.4,603.5 583.9,608.5 586,613 C588.1,617.5 590.6,622.3 593.4,626.3 C596.2,630.3 599.5,633.9 603,637 C606.5,640.1 610.2,642.8 614.2,645 C618.2,647.2 622.5,649.1 627,650.5 C631.5,651.9 636.4,653.2 641.2,653.5 C646,653.8 651.1,653.1 656,652 C660.9,650.9 666.1,648.9 670.3,647 C674.5,645.1 677.5,642.9 681,640.5 C684.5,638.1 688,635.6 691,632.6 C694,629.6 696.6,626 699,622.5 C701.4,619 703.7,615.7 705.6,611.8 C707.5,607.9 709.1,603.1 710.5,599 C711.9,594.9 713,591.1 713.9,586.9 C714.8,582.7 715.6,578.1 716,574 C716.4,569.9 716.4,565.8 716.3,562 C716.2,558.2 715.9,554.5 715.5,551 C715.1,547.5 714.7,544.7 714.2,541.2 C713.7,537.7 713.1,533.5 712.5,530 C711.9,526.5 711.1,523.7 710.5,520.4 C709.9,517.1 709.2,513.5 708.8,510 C708.4,506.6 708.2,504.2 708,499.7 C707.8,495.2 707.8,488.6 707.8,483 C707.8,477.4 708,471.9 708.2,466.4 C708.4,460.8 708.5,455.2 709,449.7 C709.5,444.2 710.2,438.5 711,433.2 C711.8,427.9 712.9,423 713.8,418 C714.7,413 715.5,408.6 716.5,403 C717.5,397.4 718.5,391.8 720,384.6 C721.5,377.4 723.2,368.2 725.2,360 C727.2,351.8 730.1,343.7 732.3,335.5 C734.5,327.3 736.6,318.5 738.5,311 C740.4,303.5 742.2,296.9 743.6,290.5 C745,284.1 746.2,279.2 746.7,272.8 C747.2,266.4 747.2,259.1 746.7,252.3 C746.2,245.5 745.3,238.7 743.6,231.9 C741.9,225.1 739,218.2 736.4,211.4 C733.8,204.6 730.4,197.8 728.2,191 C726,184.2 724.3,175.7 723,170.5 C721.7,165.3 725.7,159.8 720.5,160 C715.3,160.2 700.2,171.5 692,172 C683.8,172.5 677.9,166 671,163 C664.1,160 659,157 650.5,154 C642,151 628.4,147.3 620,145 C611.6,142.7 607,141.2 600,140 C593,138.8 583.5,136.9 578,137.5 C572.5,138.1 570,143 567,143.4Z"/></clipPath>
<path d="M690,198 C684,194.3 693.8,182.4 694.1,177.7 C694.5,173 693.5,173 692.1,169.6 C690.7,166.2 687.4,161.7 685.9,157.3 C684.4,152.9 683.1,146.9 682.9,143 C682.7,139.1 683.4,136.5 684.9,133.8 C686.4,131.1 689.2,128.1 692.1,126.6 C695,125.1 698.9,124.2 702.3,125 C705.7,125.8 709.8,128.4 712.5,131.7 C715.2,135 717.2,140.1 718.7,145 C720.2,149.9 720.7,156 721.7,161.4 C722.8,166.8 723.6,171.3 725,177.7 C726.4,184.1 735.8,196.6 730,200 C724.2,203.4 696,201.7 690,198Z" fill="#f9d193" stroke="#141414" stroke-width="1.2" stroke-linejoin="round" />
<path d="M650,182 C643.7,176.4 650.2,162.5 650.1,156.3 C650,150.1 650,149.6 649.1,145 C648.2,140.4 645.8,133.4 645,128.6 C644.2,123.8 644.2,119.8 644.4,116.4 C644.6,113 644.5,110.6 646,108.2 C647.5,105.8 650.3,103.3 653.2,102 C656.1,100.7 660,99.7 663.4,100.4 C666.8,101.1 671.1,103.1 673.7,106.1 C676.3,109.1 677.6,113.3 678.8,118.4 C680,123.5 679.9,130.3 680.8,136.8 C681.6,143.3 683,151.5 683.9,157.3 C684.8,163.1 685.2,166.2 685.9,171.6 C686.6,177 694,188.3 688,190 C682,191.7 656.3,187.6 650,182Z" fill="#f9d193" stroke="#141414" stroke-width="1.2" stroke-linejoin="round" />
<path d="M612,170 C605.7,164.5 614.4,152.2 614.3,145 C614.2,137.8 612.7,133.1 611.3,126.6 C609.9,120.1 607.3,112.6 606.1,106.1 C604.9,99.6 603.9,92 604.1,87.7 C604.3,83.5 604.8,82.5 607.2,80.6 C609.6,78.7 614.5,76.5 618.4,76.5 C622.3,76.5 627.5,77.7 630.7,80.6 C634,83.5 636.4,88.6 637.9,93.9 C639.4,99.2 639,105.8 639.9,112.3 C640.8,118.8 641.6,126.2 643,132.7 C644.4,139.2 646.7,147.1 648.1,151.2 C649.5,155.3 650.6,152.8 651.2,157.3 C651.9,161.8 658.5,175.9 652,178 C645.5,180.1 618.3,175.5 612,170Z" fill="#f9d193" stroke="#141414" stroke-width="1.2" stroke-linejoin="round" />
<path d="M573,165 C566.4,160.3 572,144.9 571.4,136.8 C570.8,128.7 570.3,122.2 569.3,116.4 C568.3,110.6 566.9,107.1 565.2,102 C563.5,96.9 560.3,90.1 559.1,85.7 C557.9,81.3 557.7,78.9 558,75.5 C558.3,72.1 558.5,67.8 561.1,65.2 C563.7,62.6 569.3,60.6 573.4,60.1 C577.5,59.6 582,60.3 585.7,62.2 C589.5,64.1 593.5,67.5 595.9,71.4 C598.3,75.3 599.5,80.6 600,85.7 C600.5,90.8 598.8,96.2 599,102 C599.2,107.8 599.8,114.7 601,120.5 C602.2,126.3 604.7,132.6 606.1,136.8 C607.5,141.1 608.4,141.3 609.2,146 C610,150.7 617,161.8 611,165 C605,168.2 579.6,169.7 573,165Z" fill="#f9d193" stroke="#141414" stroke-width="1.2" stroke-linejoin="round" />
<path d="M567,143.4 C564,143.8 561.8,141.6 560,140 C558.2,138.4 556.5,136.4 556.1,134.1 C555.7,131.8 557.2,130.1 557.8,126 C558.3,121.9 559.2,115.1 559.4,109.6 C559.6,104.1 559.4,98.7 558.8,93.2 C558.2,87.7 557.2,81.6 555.7,76.8 C554.2,72 552.3,68.2 549.6,64.6 C546.9,61 543.5,57.6 539.4,55.4 C535.3,53.2 529.5,51.6 525,51.3 C520.5,50.9 516.8,51.8 512.7,53.3 C508.6,54.8 503.6,57.6 500.5,60.5 C497.4,63.4 495.6,67.3 494.3,70.7 C493,74.1 492.9,77.2 492.7,81 C492.5,84.8 492.5,88.4 493.3,93.2 C494.1,98 495.9,104.1 497.4,109.6 C498.9,115.1 501,120.9 502.5,126 C504,131.1 505.2,135.5 506.6,140.3 C508,145.1 509.8,150.2 510.7,154.6 C511.6,159 512,162.6 512.3,166.9 C512.6,171.2 512.3,173.2 512.3,180.5 C512.3,187.8 512.1,202.5 512.5,211 C512.9,219.5 513.4,224.8 514.6,231.6 C515.8,238.4 517.8,244.8 519.7,252 C521.6,259.2 524,268.3 525.8,274.6 C527.5,280.9 528.1,283 530.2,290 C532.3,297 535.7,307.7 538.4,316.6 C541.1,325.5 543.9,334 546.6,343.2 C549.3,352.4 552.1,362.6 554.8,371.9 C557.4,381.2 560.4,389.3 562.5,399 C564.6,408.7 566,421.6 567.5,430 C569,438.4 570.2,442.2 571.2,449.7 C572.2,457.2 572.8,466.7 573.2,475 C573.6,483.3 573.7,489.1 573.7,499.4 C573.8,509.7 573.2,524.5 573.5,537 C573.8,549.5 574.9,565.9 575.6,574.4 C576.3,582.9 576.6,583.9 577.5,588 C578.4,592.1 579.6,595.1 581,599.3 C582.4,603.5 583.9,608.5 586,613 C588.1,617.5 590.6,622.3 593.4,626.3 C596.2,630.3 599.5,633.9 603,637 C606.5,640.1 610.2,642.8 614.2,645 C618.2,647.2 622.5,649.1 627,650.5 C631.5,651.9 636.4,653.2 641.2,653.5 C646,653.8 651.1,653.1 656,652 C660.9,650.9 666.1,648.9 670.3,647 C674.5,645.1 677.5,642.9 681,640.5 C684.5,638.1 688,635.6 691,632.6 C694,629.6 696.6,626 699,622.5 C701.4,619 703.7,615.7 705.6,611.8 C707.5,607.9 709.1,603.1 710.5,599 C711.9,594.9 713,591.1 713.9,586.9 C714.8,582.7 715.6,578.1 716,574 C716.4,569.9 716.4,565.8 716.3,562 C716.2,558.2 715.9,554.5 715.5,551 C715.1,547.5 714.7,544.7 714.2,541.2 C713.7,537.7 713.1,533.5 712.5,530 C711.9,526.5 711.1,523.7 710.5,520.4 C709.9,517.1 709.2,513.5 708.8,510 C708.4,506.6 708.2,504.2 708,499.7 C707.8,495.2 707.8,488.6 707.8,483 C707.8,477.4 708,471.9 708.2,466.4 C708.4,460.8 708.5,455.2 709,449.7 C709.5,444.2 710.2,438.5 711,433.2 C711.8,427.9 712.9,423 713.8,418 C714.7,413 715.5,408.6 716.5,403 C717.5,397.4 718.5,391.8 720,384.6 C721.5,377.4 723.2,368.2 725.2,360 C727.2,351.8 730.1,343.7 732.3,335.5 C734.5,327.3 736.6,318.5 738.5,311 C740.4,303.5 742.2,296.9 743.6,290.5 C745,284.1 746.2,279.2 746.7,272.8 C747.2,266.4 747.2,259.1 746.7,252.3 C746.2,245.5 745.3,238.7 743.6,231.9 C741.9,225.1 739,218.2 736.4,211.4 C733.8,204.6 730.4,197.8 728.2,191 C726,184.2 724.3,175.7 723,170.5 C721.7,165.3 725.7,159.8 720.5,160 C715.3,160.2 700.2,171.5 692,172 C683.8,172.5 677.9,166 671,163 C664.1,160 659,157 650.5,154 C642,151 628.4,147.3 620,145 C611.6,142.7 607,141.2 600,140 C593,138.8 583.5,136.9 578,137.5 C572.5,138.1 570,143 567,143.4Z" fill="#f9d193"/>
<path d="M712,196 q-8,-10 -20,-8 M680,172 q-12,-10 -27,-6 M673,162 q-10,-6 -22,-3 M640,158 q-12,-9 -26,-6 M636,148 q-10,-6 -21,-3 M600,147 q-12,-8 -25,-4 M598,137 q-10,-6 -20,-3" fill="none" stroke="#141414" stroke-width="0.7"/>
<g transform="rotate(-8 578.5 79.5)">
<ellipse cx="578.5" cy="79.5" rx="14" ry="15.3" fill="#ecc485"/>
<path d="M566.1,72.8 V86.2 M569.2,68.7 V90.3 M572.3,66.5 V92.5 M575.4,65.3 V93.7 M578.5,65 V94 M581.6,65.3 V93.7 M584.7,66.5 V92.5 M587.8,68.7 V90.3 M590.9,72.8 V86.2 " stroke="#141414" stroke-width="1" fill="none"/>
<path d="M563,80.5 A15.5,19.3 0 0 0 594,80.5" stroke="#141414" stroke-width="0.8" fill="none"/>
</g>
<g transform="rotate(-8 621 96.4)">
<ellipse cx="621" cy="96.4" rx="13.8" ry="14.8" fill="#ecc485"/>
<path d="M608.7,90 V102.8 M611.8,85.9 V106.9 M614.9,83.8 V109 M617.9,82.7 V110.1 M621,82.3 V110.5 M624.1,82.7 V110.1 M627.1,83.8 V109 M630.2,85.9 V106.9 M633.3,90 V102.8 " stroke="#141414" stroke-width="1" fill="none"/>
<path d="M605.7,97.4 A15.3,18.8 0 0 0 636.3,97.4" stroke="#141414" stroke-width="0.8" fill="none"/>
</g>
<g transform="rotate(-8 660.9 119)">
<ellipse cx="660.9" cy="119" rx="13.8" ry="14.8" fill="#ecc485"/>
<path d="M648.6,112.6 V125.4 M651.7,108.5 V129.5 M654.8,106.4 V131.6 M657.8,105.3 V132.7 M660.9,104.9 V133.1 M664,105.3 V132.7 M667,106.4 V131.6 M670.1,108.5 V129.5 M673.2,112.6 V125.4 " stroke="#141414" stroke-width="1" fill="none"/>
<path d="M645.6,120 A15.3,18.8 0 0 0 676.2,120" stroke="#141414" stroke-width="0.8" fill="none"/>
</g>
<g transform="rotate(-6 700.8 143.5)">
<ellipse cx="700.8" cy="143.5" rx="14.8" ry="15.8" fill="#ecc485"/>
<path d="M687.6,136.6 V150.4 M690.9,132.3 V154.7 M694.2,130.1 V156.9 M697.5,128.9 V158.1 M700.8,128.5 V158.5 M704.1,128.9 V158.1 M707.4,130.1 V156.9 M710.7,132.3 V154.7 M714,136.6 V150.4 " stroke="#141414" stroke-width="1" fill="none"/>
<path d="M684.5,144.5 A16.3,19.8 0 0 0 717.1,144.5" stroke="#141414" stroke-width="0.8" fill="none"/>
</g>
<g clip-path="url(#lc)">
<path d="M574,157.5 C575.3,155.4 572.7,157.4 574,157.5 C575.3,157.6 576.2,157.7 581.6,158.3 C587,159 596.9,159.5 606.1,161.4 C615.3,163.3 627.6,166.5 636.8,169.6 C646,172.7 653,176.2 661.4,179.8 C669.8,183.5 683,189.6 687.3,191.5 C691.6,193.4 685.6,190.6 687.3,191.5 C689,192.4 692.4,194 697.5,197 C702.6,200 711.5,205.6 718,209.4 C724.5,213.2 729.4,215.8 736.4,219.6 C743.4,223.4 756.1,229.9 760,232 C763.9,234.1 760,218.7 760,232 C760,245.3 760,298.7 760,312 C760,325.3 763.2,313.7 760,312 C756.8,310.3 747.3,306.8 741,302 C734.7,297.2 728.6,288 722,283 C715.4,278 708.4,274.8 701.6,272 C694.8,269.2 689,267.7 681.2,266 C673.4,264.3 665.6,262.7 654.6,262 C643.6,261.3 628.8,258.5 615,262 C601.2,265.5 584.3,277.8 572,283 C559.7,288.2 546.3,291.3 541.2,293 C536.1,294.7 543.1,296 541.2,293 C539.3,290 531.9,278 530,275 C528.1,272 525,279.2 530,275 C535,270.8 553,262.5 560,250 C567,237.5 571,213.3 572,200 C573,186.7 565.7,177.1 566,170 C566.3,162.9 572.7,159.6 574,157.5Z" fill="#fdd42f" stroke="#141414" stroke-width="1" stroke-linejoin="round" />
<path d="M526,148 C526.1,142.6 520.3,148 526,148 C531.7,148 554.3,148 560,148 C565.7,148 558.7,142.6 560,148 C561.3,153.4 566.3,171.7 567.8,180.5 C569.3,189.3 569.1,194.2 568.8,201 C568.4,207.8 567.6,214.6 565.7,221.4 C563.8,228.2 560.9,236.1 557.5,241.9 C554.1,247.7 549.2,251.8 545.3,256.2 C541.4,260.6 535.9,266 534,268 C532.1,270 535,270.7 534,268 C533,265.3 529.5,258.1 528,252 C526.5,245.9 525.5,238.4 524.8,231.6 C524.1,224.8 523.9,219.5 524,211 C524.1,202.5 525.1,191 525.4,180.5 C525.7,170 525.9,153.4 526,148Z" fill="#f9d193" stroke="none" stroke-width="1.2" stroke-linejoin="round" />
<path d="M691,177 C691.2,178.8 691.6,184 692.2,188 C692.8,192 692.9,195.4 694.5,201 C696.1,206.6 698.7,214.8 701.6,221.6 C704.5,228.4 708.1,235.2 711.9,242 C715.7,248.8 720.1,255.9 724.2,262.6 C728.3,269.3 732.5,275.8 736.5,282 C740.5,288.2 746.1,297 748,300" fill="none" stroke="#141414" stroke-width="11.5" stroke-linecap="butt" stroke-linejoin="round"/>
<path d="M691,177 C691.2,178.8 691.6,184 692.2,188 C692.8,192 692.9,195.4 694.5,201 C696.1,206.6 698.7,214.8 701.6,221.6 C704.5,228.4 708.1,235.2 711.9,242 C715.7,248.8 720.1,255.9 724.2,262.6 C728.3,269.3 732.5,275.8 736.5,282 C740.5,288.2 746.1,297 748,300" fill="none" stroke="#1f9fd6" stroke-width="9.5" stroke-linecap="butt" stroke-linejoin="round"/>
<path d="M650,263.5 C652.5,263.8 659.8,264.6 665,265.5 C670.2,266.4 675.1,266.9 681.2,268.7 C687.3,270.4 695.6,273.2 701.6,276 C707.6,278.8 712.1,282 717,285.5 C721.9,289 726.3,293.1 731,297 C735.7,300.9 742.7,307 745,309" fill="none" stroke="#141414" stroke-width="8.9" stroke-linecap="butt" stroke-linejoin="round"/>
<path d="M650,263.5 C652.5,263.8 659.8,264.6 665,265.5 C670.2,266.4 675.1,266.9 681.2,268.7 C687.3,270.4 695.6,273.2 701.6,276 C707.6,278.8 712.1,282 717,285.5 C721.9,289 726.3,293.1 731,297 C735.7,300.9 742.7,307 745,309" fill="none" stroke="#2aa3d0" stroke-width="7" stroke-linecap="butt" stroke-linejoin="round"/>
<path d="M580,281 C578.6,281.4 575.6,282.5 571.9,283.7 C568.1,284.9 562.6,286.3 557.5,288 C552.4,289.7 545.8,292.3 541.2,294 C536.6,295.7 531.9,297.3 530,298" fill="none" stroke="#141414" stroke-width="6.8" stroke-linecap="butt" stroke-linejoin="round"/>
<path d="M580,281 C578.6,281.4 575.6,282.5 571.9,283.7 C568.1,284.9 562.6,286.3 557.5,288 C552.4,289.7 545.8,292.3 541.2,294 C536.6,295.7 531.9,297.3 530,298" fill="none" stroke="#2aa3d0" stroke-width="5" stroke-linecap="butt" stroke-linejoin="round"/>
<path d="M581.6,144.2 C584,143.5 587.9,144.1 592,144.6 C596.1,145.1 601.3,146 606.1,147 C610.9,148 615.9,149.1 621,150.5 C626.1,151.9 632.1,153.6 636.8,155.2 C641.5,156.8 644.9,158.3 649,160 C653.1,161.7 657.2,163.6 661.4,165.5 C665.6,167.4 669.9,169.5 674,171.5 C678.1,173.5 683.4,175.9 686,177.7 C688.6,179.4 688.9,181.3 689.5,182 C690.1,182.7 690.4,181.8 689.5,182 C688.6,182.2 686.8,183.4 684,183 C681.2,182.6 676.3,180.8 672.5,179.5 C668.7,178.2 665.3,176.6 661.4,174.9 C657.5,173.2 653.1,171 649,169.3 C644.9,167.6 641.5,166.2 636.8,164.7 C632.1,163.1 626.1,161.4 621,160 C615.9,158.6 610.9,157.4 606.1,156.5 C601.3,155.6 596.1,155 592,154.5 C587.9,154 584,154.3 581.6,153.4 C579.2,152.5 577.6,150.5 577.6,149 C577.6,147.5 579.2,144.9 581.6,144.2Z" fill="#d8212a" stroke="#141414" stroke-width="1.1" stroke-linejoin="round" />
<path d="M538,297 C540.8,293 553,293.6 560,292.5 C567,291.4 570.8,290.6 580,290.5 C589.2,290.4 603.2,293.4 615,292 C626.8,290.6 641.2,284.1 650.5,282.3 C659.8,280.5 664.2,280.8 671,281.3 C677.8,281.8 684.6,282.8 691.4,285.3 C698.2,287.9 706.1,292.3 711.9,296.6 C717.7,300.9 722.8,306.6 726.2,311 C729.6,315.4 731.6,319.5 732.3,323.2 C733,326.9 732,330 730.3,333.4 C728.6,336.8 725.2,341.1 722.1,343.7 C719,346.3 715.3,348.1 711.9,348.8 C708.5,349.5 704.3,346.8 701.6,348 C698.9,349.2 698.6,353 695.5,356 C692.4,359 687.3,363.5 683.2,366.2 C679.1,368.9 675.4,371.1 671,372.3 C666.6,373.5 660.5,371.9 657,373.5 C653.5,375.1 651.2,380.6 650,382 C648.8,383.4 655,381.3 650,382 C645,382.7 632.5,385.3 620,386 C607.5,386.7 585,388.3 575,386 C565,383.7 563.8,379.1 560,372 C556.2,364.9 554.8,352.4 552,343.2 C549.2,334 545.3,324.3 543,316.6 C540.7,308.9 535.2,301 538,297Z" fill="#a4d482" stroke="#141414" stroke-width="1.1" stroke-linejoin="round" />
<path d="M671,281.3 C673.6,281.7 684.6,282.8 691.4,285.3 C698.2,287.9 706.1,292.3 711.9,296.6 C717.7,300.9 722.8,306.6 726.2,311 C729.6,315.4 731.6,319.5 732.3,323.2 C733,326.9 732,330 730.3,333.4 C728.6,336.8 725.2,341.1 722.1,343.7 C719,346.3 715.3,348.1 711.9,348.8 C708.5,349.5 703.3,348 701.6,347.8 C699.9,347.6 700.4,350.5 701.6,347.8 C702.8,345.1 707.4,336.9 708.8,331.4 C710.2,325.9 710.6,320.4 709.8,315 C708.9,309.6 706.8,303.1 703.7,298.7 C700.6,294.3 696,291 691.4,288.4 C686.8,285.8 679.4,284.2 676,283 C672.6,281.8 668.4,280.9 671,281.3Z" fill="#cf1f2a" stroke="#141414" stroke-width="1.1" stroke-linejoin="round" />
<path d="M712,316 C714,313.7 719.3,316.3 722,318 C724.7,319.7 727.7,322.8 728,326 C728.3,329.2 726.3,334 724,337 C721.7,340 717,342.7 714,344 C711,345.3 706.7,347 706,345 C705.3,343 709,336.8 710,332 C711,327.2 710,318.3 712,316Z" fill="#e42d36" stroke="none" stroke-width="1.2" stroke-linejoin="round" />
<ellipse cx="614" cy="273.8" rx="43.5" ry="17" transform="rotate(-8.5 614 273.8)" fill="#ee5a3a" stroke="#141414" stroke-width="0.9"/>
<path d="M552,347 C551.8,340.9 554.7,345.9 558.9,344.2 C563.1,342.5 570.8,339.6 577.3,337 C583.8,334.4 592,330.9 597.8,328.9 C603.6,326.9 606.3,325.3 612.1,324.8 C617.9,324.3 626.2,324 632.6,325.8 C639,327.6 644.1,333.6 650.5,335.5 C656.9,337.4 664.2,337.3 671,337.5 C677.8,337.7 687,336 691.4,336.5 C695.8,337 696.2,339.1 697.5,340.5 C698.8,341.9 699.2,343.5 699,345 C698.8,346.5 699.1,347.7 696.5,349.5 C693.9,351.3 688.8,354.1 683.2,356 C677.6,357.9 668.5,360 662.7,361 C656.9,362 652.2,362.5 648.4,362 C644.6,361.5 644.7,358 640,358 C635.3,358 626,360.4 620,362 C614,363.6 607.6,366.5 603.9,367.8 C600.2,369.1 601.5,368.4 597.8,369.8 C594,371.2 586.3,374.2 581.4,376 C576.5,377.8 571.7,379.7 568.1,380.5 C564.5,381.3 562.7,386.6 560,381 C557.3,375.4 552.2,353.1 552,347Z" fill="#ec5434" stroke="#141414" stroke-width="1.1" stroke-linejoin="round" />
<path d="M591.6,311.5 C594.9,311.8 601.6,314.1 603.9,316 C606.2,317.9 606.4,320.2 605.2,322.7 C604,325.2 598.8,328.1 596.5,331 C594.2,333.9 593.8,338 591.6,340 C589.4,342 585.7,343.6 583.4,342.8 C581.1,342 578.4,338.4 577.7,335 C577,331.6 578.2,326.2 579.2,322.7 C580.2,319.2 581.9,315.9 584,314 C586.1,312.1 588.3,311.2 591.6,311.5Z" fill="#15803c" stroke="#141414" stroke-width="1.1" stroke-linejoin="round" />
<path d="M566,388 C563.7,368.5 560.3,388 566,388 C571.7,388 587.7,388.2 600,388 C612.3,387.8 631.6,388.2 640,387 C648.4,385.8 647.7,383.2 650.5,381 C653.3,378.8 654.6,375.1 656.6,373.6 C658.6,372.2 660,371.8 662.7,372.3 C665.4,372.8 668.2,375.4 673,376.4 C677.8,377.4 685.6,378.8 691.4,378.5 C697.2,378.2 703.7,375.5 707.8,374.6 C711.9,373.7 714.2,372.7 716,373 C717.8,373.3 718.4,373.1 718.5,376.4 C718.6,379.7 718,387.2 716.5,392.8 C715,398.4 711.4,403.8 709.8,410 C708.1,416.2 707.3,423.4 706.6,430 C705.9,436.6 705.9,442.2 705.4,449.7 C704.9,457.2 703.9,466.7 703.5,475 C703.1,483.3 703.6,491.2 702.9,499.4 C702.2,507.6 701.1,517.2 699.2,524.3 C697.3,531.3 696.7,535.1 691.7,541.7 C686.7,548.3 675.5,559.3 669.4,564 C663.3,568.7 659.6,569 655,570 C650.4,571 646.2,570.8 642,570 C637.8,569.2 634.1,568 629.6,565.3 C625.1,562.6 620.1,558.4 614.7,554 C609.3,549.6 601.9,544.2 597.3,539.2 C592.7,534.2 590.2,530 587.3,524.3 C584.4,518.6 581.2,508.2 580,505 C578.8,501.8 582.3,524.5 580,505 C577.7,485.5 568.3,407.5 566,388Z" fill="#b0582d" stroke="#141414" stroke-width="1.1" stroke-linejoin="round" />
<path d="M656,374 C657,376.3 659.3,384.8 662,388 C664.7,391.2 668.8,392.2 672,393 C675.2,393.8 676.6,393.4 681.2,392.8 C685.8,392.2 696,389.7 699.6,389.7 C703.2,389.7 702.7,390.8 702.7,393 C702.7,395.2 700.6,401 699.6,403 C698.6,405 698.2,402.2 696.7,405 C695.2,407.8 692,410.4 690.5,419.9 C689,429.4 688.6,448.8 688,462 C687.4,475.2 688.2,489 686.8,499.4 C685.3,509.8 683.9,516.8 679.3,524.3 C674.7,531.8 663.9,540.5 659.4,544.2 C654.9,547.9 654.9,547 652,546.6 C649.1,546.2 647,546.7 642,541.7 C637,536.7 627.4,523.8 622,516.8 C616.6,509.7 613,503.5 609.7,499.4 C606.4,495.3 603.5,493.2 602.3,492" fill="none" stroke="#141414" stroke-width="0.9"/>
<path d="M578.6,422.9 L656.9,422.9" stroke="#141414" stroke-width="3.1" stroke-dasharray="5.8,2.7" fill="none"/>
<path d="M627,442.7 L686.8,442.7" stroke="#141414" stroke-width="3.1" stroke-dasharray="5.8,2.7" fill="none"/>
<path d="M591,462.6 L660.7,462.6" stroke="#141414" stroke-width="3.1" stroke-dasharray="5.8,2.7" fill="none"/>
<path d="M628.3,486.2 L676.8,486.2" stroke="#141414" stroke-width="3.1" stroke-dasharray="5.8,2.7" fill="none"/>
<path d="M597.3,508 L653.2,508" stroke="#141414" stroke-width="3.1" stroke-dasharray="5.8,2.7" fill="none"/>
<path d="M664,567 C664.3,565.2 673.5,563.2 678,561 C682.5,558.8 686.7,556.2 691,553.7 C695.3,551.2 699.2,548.8 704,546 C708.8,543.2 717.3,538.5 720,537 C722.7,535.5 720,534 720,537 C720,540 720,552 720,555 C720,558 722.7,554 720,555 C717.3,556 708.8,559.1 704,561 C699.2,562.9 695.7,564.7 691,566.5 C686.3,568.3 680.5,571.9 676,572 C671.5,572.1 663.7,568.8 664,567Z" fill="#dc7a55" stroke="#141414" stroke-width="1.1" stroke-linejoin="round" />
<path d="M583,561.8 C583,558.8 579.3,560.7 583,561.8 C586.7,562.9 598.1,566.8 605,568.5 C611.9,570.2 617.9,571.3 624.6,572.3 C631.3,573.3 638.1,574.1 645,574.5 C651.9,574.9 659.8,575 666,574.4 C672.2,573.8 677.1,572.4 682,571 C686.9,569.6 688.9,569.2 695.2,566 C701.5,562.8 715.9,553.9 720,551.5 C724.1,549.1 720,549.6 720,551.5 C720,553.4 720,561.1 720,563 C720,564.9 723.3,560.8 720,563 C716.7,565.2 706.2,572.4 700,576 C693.8,579.6 688,582.5 682.7,584.8 C677.4,587.1 672.8,588.6 668,590 C663.2,591.4 658.4,592.5 653.7,593 C649,593.5 644.9,593.3 640,593 C635.1,592.7 630.4,592.1 624.6,591 C618.8,589.9 611.9,588.4 605,586.5 C598.1,584.6 586.7,580.8 583,579.6 C579.3,578.5 583,582.6 583,579.6 C583,576.6 583,564.8 583,561.8Z" fill="#dc7a55" stroke="#141414" stroke-width="1.1" stroke-linejoin="round" />
<path d="M613,384 C611.5,385 606.6,387 604,390 C601.4,393 599.2,396.5 597.5,402 C595.8,407.5 594.2,415.8 593.5,423 C592.8,430.2 593.4,438.5 593.5,445 C593.6,451.5 593.6,455.5 594,462 C594.4,468.5 596,478 596,484 C596,490 594.3,495.7 594,498" fill="none" stroke="#141414" stroke-width="10.2" stroke-linecap="butt" stroke-linejoin="round"/>
<path d="M613,384 C611.5,385 606.6,387 604,390 C601.4,393 599.2,396.5 597.5,402 C595.8,407.5 594.2,415.8 593.5,423 C592.8,430.2 593.4,438.5 593.5,445 C593.6,451.5 593.6,455.5 594,462 C594.4,468.5 596,478 596,484 C596,490 594.3,495.7 594,498" fill="none" stroke="#ffe13c" stroke-width="8.2" stroke-linecap="butt" stroke-linejoin="round"/>
<path d="M612.1,338.7 C616.4,338.9 621.6,340.1 626.4,343.2 C631.2,346.3 636.9,352 640.8,357.5 C644.7,363 648.6,369.9 650,376 C651.4,382.1 650.4,389.3 648.9,394.4 C647.4,399.5 643.9,403.9 640.8,406.7 C637.7,409.5 634.3,411.4 630.5,411.2 C626.7,411 621.6,408.8 618.2,405.6 C614.8,402.5 611.9,397.2 610,392.3 C608.1,387.4 608.5,380.8 607,376 C605.5,371.2 602.6,367.8 600.8,363.7 C599,359.6 596.1,355 596.1,351.4 C596.1,347.8 598.1,344.3 600.8,342.2 C603.5,340.1 607.8,338.5 612.1,338.7Z" fill="#ffe13c" stroke="#141414" stroke-width="1.2" stroke-linejoin="round" />
</g>
<linearGradient id="lg" gradientUnits="userSpaceOnUse" x1="0" y1="60" x2="0" y2="620"><stop offset="0" stop-color="#1f9fd6"/><stop offset="0.47" stop-color="#1f9fd6"/><stop offset="0.57" stop-color="#1ba6a0"/><stop offset="0.78" stop-color="#13a07a"/><stop offset="1" stop-color="#129a6c"/></linearGradient>
<g clip-path="url(#lc)">
<path d="M495.4,76 C496.2,78.9 498.6,86.9 500.5,93.2 C502.4,99.5 504.2,107.6 506.6,113.7 C509,119.8 512.4,125.6 514.8,130 C517.2,134.4 519,136.2 520.9,140.3 C522.8,144.4 525,150.5 526,154.6 C527,158.7 526.7,160.7 526.8,165 C526.9,169.3 526.7,172.8 526.4,180.5 C526.1,188.2 524.9,202.5 524.8,211 C524.7,219.5 524.9,224.8 525.8,231.6 C526.7,238.4 528.5,244.8 530,252 C531.5,259.2 533.2,268.3 535,274.6 C536.8,280.9 538.2,283 540.5,290 C542.8,297 545.8,307.7 548.7,316.6 C551.6,325.5 555.2,334 557.9,343.2 C560.6,352.4 562.6,362.6 565,371.9 C567.4,381.2 569.9,389.3 572,399 C574.1,408.7 576,421.6 577.5,430 C579,438.4 580.1,442.2 581.1,449.7 C582.1,457.2 582.9,466.7 583.5,475 C584.1,483.3 584.5,489.4 584.9,499.4 C585.3,509.4 585.6,523.2 585.8,535 C586,546.8 586.1,560.8 586.1,570 C586.1,579.2 586.3,584.5 586,590 C585.7,595.5 585.2,599.3 584.5,603 C583.8,606.7 582.4,610.5 582,612 L560,640 L480,600 L480,60Z" fill="url(#lg)" stroke="#141414" stroke-width="1"/>
<path d="M570,484 C571,475.6 573.8,481.2 576,480.5 C578.2,479.8 580.3,478.9 583,479.5 C585.7,480.1 589.2,482.8 592,484 C594.8,485.2 598.9,484 599.8,487 C600.7,490 599,497.9 597.3,502 C595.6,506.1 591.2,508.5 589.8,511.8 C588.3,515.1 589.6,518.7 588.6,521.8 C587.6,524.9 585.7,528.7 583.6,530.5 C581.5,532.3 578.3,532.4 576,532.5 C573.7,532.6 571,539.1 570,531 C569,522.9 569,492.4 570,484Z" fill="#ffe13c" stroke="#141414" stroke-width="1.2" stroke-linejoin="round" />
</g>
<g clip-path="url(#lc)">
<path d="M556,131 C556.7,129.3 554,128.8 556,131 C558,133.2 565,140.5 568,144.4 C571,148.3 572.4,152 574.1,154.6 C575.8,157.2 576.1,155.7 578,160 C579.9,164.3 583.8,173.7 585.2,180.5 C586.6,187.3 586.6,193.5 586.2,201 C585.9,208.5 585.2,217.7 583.1,225.5 C581,233.3 578.2,241.9 573.9,248 C569.6,254.1 563.6,257.6 557.5,262.3 C551.4,267 540.4,273.7 537,276 C533.6,278.3 537.7,277.3 537,276 C536.3,274.7 533.7,269.3 533,268 C532.3,266.7 531,270 533,268 C535,266 541.2,260.6 545.3,256.2 C549.4,251.8 554.1,247.7 557.5,241.9 C560.9,236.1 563.8,228.2 565.7,221.4 C567.6,214.6 568.4,207.8 568.8,201 C569.1,194.2 569.2,187.3 567.8,180.5 C566.4,173.7 562.3,164.3 560.6,160 C558.9,155.7 559.2,157.8 557.8,154.6 C556.4,151.4 553,143.3 552,141 C551,138.7 551.3,142.7 552,141 C552.7,139.3 555.3,132.7 556,131Z" fill="#15803c" stroke="#141414" stroke-width="1.1" stroke-linejoin="round" />
<path d="M503,146.5 C502.5,145.2 499.7,147.2 503,146.5 C506.3,145.8 516.6,143.7 523,142.3 C529.4,140.9 535.6,140 541.4,138.2 C547.1,136.4 554.8,132.6 557.5,131.5 C560.2,130.4 557.1,130.1 557.5,131.5 C557.9,132.9 559.6,138.6 560,140 C560.4,141.4 563.1,138.9 560,140 C556.9,141.1 547.2,144.8 541.4,146.6 C535.6,148.4 530.9,149.4 525,150.7 C519.1,152 509.2,153.9 506,154.5 C502.8,155.1 506.5,155.8 506,154.5 C505.5,153.2 503.5,147.8 503,146.5Z" fill="#15803c" stroke="#141414" stroke-width="1.1" stroke-linejoin="round" />
<path d="M546,60 C544.1,60.1 542.4,59 541.4,62.5 C540.4,66 539.8,75.2 539.8,81 C539.8,86.8 540.4,91.2 541.4,97.3 C542.4,103.4 544.1,111.7 545.5,117.8 C546.9,123.9 548.9,131.4 549.6,134.1 C550.3,136.8 547.5,134.1 549.6,134.1 C551.7,134.1 559.9,134 562,134 C564.1,134 561.8,139.7 562,134 C562.2,128.3 563.3,109.7 563,100 C562.7,90.3 561.7,82.3 560,76 C558.3,69.7 555.3,64.7 553,62 C550.7,59.3 547.9,59.9 546,60Z" fill="#d96a49" stroke="#141414" stroke-width="1" stroke-linejoin="round" />
<path d="M497.5,66 V76 M502.9,61.7 V77.1 M508.7,58.1 V78.2 M514.8,55.5 V79.5 M520.9,54.1 V80.7 M527,53.9 V81.9 M533.6,55 V83.2 M539.4,57.1 V84.4 M545,60.3 V85.5 " stroke="#141414" stroke-width="1.5" fill="none"/>
<ellipse cx="526" cy="103.4" rx="7.2" ry="6" fill="#25a7d8" stroke="#141414" stroke-width="0.9"/>
<path d="M506.6,113 q4,7 14,8.5 q12,1.5 21,-1 M521,131 q12,2 24,-3" fill="none" stroke="#141414" stroke-width="0.8"/>
</g>
<path d="M559.2,87 C559.7,86.5 560.9,90.8 561.9,93.2 C562.9,95.6 564,98.7 565,101.4 C566,104.1 567.1,106.5 568,109.6 C568.9,112.7 569.9,116.3 570.6,120 C571.3,123.7 572.2,128.7 572.3,132 C572.4,135.3 572.2,138 571.3,140 C570.4,142 568.6,143.7 567,144 C565.4,144.3 563.2,143.5 561.5,141.8 C559.8,140.2 557.1,136.7 556.5,134.1 C555.9,131.5 557.3,130.1 557.8,126 C558.2,121.9 559,114.6 559.2,109.6 C559.4,104.6 558.8,99.8 558.8,96 C558.8,92.2 558.7,87.5 559.2,87Z" fill="#fefefe" stroke="#141414" stroke-width="1.1" stroke-linejoin="round" />
<path d="M682.9,151.5 C683.2,151.5 684.4,155 685.9,158 C687.4,161 690.6,166.3 692.1,169.6 C693.6,172.8 696,176.3 695,177.5 C694,178.7 687.5,176.7 686,176.5 C684.5,176.3 686.1,177.9 686,176.5 C685.9,175.1 685.6,171.1 685.2,168 C684.9,164.9 684.3,160.8 683.9,158 C683.5,155.2 682.6,151.5 682.9,151.5Z" fill="#fefefe" stroke="#141414" stroke-width="0.9" stroke-linejoin="round" />
<path d="M640.2,114 C640.3,116.1 641.7,126.5 643,132.7 C644.3,138.9 646.8,147.1 648.1,151.2 C649.4,155.2 650.8,156 651,157 C651.2,158 650,159 649.6,157 C649.2,155 649.4,149.7 648.6,145 C647.8,140.3 646,132.8 645,128.6 C644,124.4 643.3,122.4 642.5,120 C641.7,117.6 640.1,111.9 640.2,114Z" fill="#fefefe" stroke="#141414" stroke-width="0.9" stroke-linejoin="round" />
<path d="M600.2,97 C599.9,100.6 600,113.9 601,120.5 C602,127.1 604.7,132.6 606.1,136.8 C607.5,141.1 608.2,144.5 609.4,146 C610.5,147.5 612.2,146.5 613,146 C613.8,145.5 614.3,146.2 614,143 C613.7,139.8 612.6,132.8 611.3,126.6 C610,120.4 607.5,110.7 606.1,106.1 C604.7,101.5 604,100.5 603,99 C602,97.5 600.5,93.4 600.2,97Z" fill="#fefefe" stroke="#141414" stroke-width="0.9" stroke-linejoin="round" />
<path d="M567,143.4 C565.8,142.8 561.8,141.6 560,140 C558.2,138.4 556.5,136.4 556.1,134.1 C555.7,131.8 557.2,130.1 557.8,126 C558.3,121.9 559.2,115.1 559.4,109.6 C559.6,104.1 559.4,98.7 558.8,93.2 C558.2,87.7 557.2,81.6 555.7,76.8 C554.2,72 552.3,68.2 549.6,64.6 C546.9,61 543.5,57.6 539.4,55.4 C535.3,53.2 529.5,51.6 525,51.3 C520.5,50.9 516.8,51.8 512.7,53.3 C508.6,54.8 503.6,57.6 500.5,60.5 C497.4,63.4 495.6,67.3 494.3,70.7 C493,74.1 492.9,77.2 492.7,81 C492.5,84.8 492.5,88.4 493.3,93.2 C494.1,98 495.9,104.1 497.4,109.6 C498.9,115.1 501,120.9 502.5,126 C504,131.1 505.2,135.5 506.6,140.3 C508,145.1 509.8,150.2 510.7,154.6 C511.6,159 512,162.6 512.3,166.9 C512.6,171.2 512.3,173.2 512.3,180.5 C512.3,187.8 512.1,202.5 512.5,211 C512.9,219.5 513.4,224.8 514.6,231.6 C515.8,238.4 517.8,244.8 519.7,252 C521.6,259.2 524,268.3 525.8,274.6 C527.5,280.9 528.1,283 530.2,290 C532.3,297 535.7,307.7 538.4,316.6 C541.1,325.5 543.9,334 546.6,343.2 C549.3,352.4 552.1,362.6 554.8,371.9 C557.4,381.2 560.4,389.3 562.5,399 C564.6,408.7 566,421.6 567.5,430 C569,438.4 570.2,442.2 571.2,449.7 C572.2,457.2 572.8,466.7 573.2,475 C573.6,483.3 573.7,489.1 573.7,499.4 C573.8,509.7 573.2,524.5 573.5,537 C573.8,549.5 574.9,565.9 575.6,574.4 C576.3,582.9 576.6,583.9 577.5,588 C578.4,592.1 579.6,595.1 581,599.3 C582.4,603.5 583.9,608.5 586,613 C588.1,617.5 590.6,622.3 593.4,626.3 C596.2,630.3 599.5,633.9 603,637 C606.5,640.1 610.2,642.8 614.2,645 C618.2,647.2 622.5,649.1 627,650.5 C631.5,651.9 636.4,653.2 641.2,653.5 C646,653.8 651.1,653.1 656,652 C660.9,650.9 666.1,648.9 670.3,647 C674.5,645.1 677.5,642.9 681,640.5 C684.5,638.1 688,635.6 691,632.6 C694,629.6 696.6,626 699,622.5 C701.4,619 703.7,615.7 705.6,611.8 C707.5,607.9 709.1,603.1 710.5,599 C711.9,594.9 713,591.1 713.9,586.9 C714.8,582.7 715.6,578.1 716,574 C716.4,569.9 716.4,565.8 716.3,562 C716.2,558.2 715.9,554.5 715.5,551 C715.1,547.5 714.7,544.7 714.2,541.2 C713.7,537.7 713.1,533.5 712.5,530 C711.9,526.5 711.1,523.7 710.5,520.4 C709.9,517.1 709.2,513.5 708.8,510 C708.4,506.6 708.2,504.2 708,499.7 C707.8,495.2 707.8,488.6 707.8,483 C707.8,477.4 708,471.9 708.2,466.4 C708.4,460.8 708.5,455.2 709,449.7 C709.5,444.2 710.2,438.5 711,433.2 C711.8,427.9 712.9,423 713.8,418 C714.7,413 715.5,408.6 716.5,403 C717.5,397.4 718.5,391.8 720,384.6 C721.5,377.4 723.2,368.2 725.2,360 C727.2,351.8 730.1,343.7 732.3,335.5 C734.5,327.3 736.6,318.5 738.5,311 C740.4,303.5 742.2,296.9 743.6,290.5 C745,284.1 746.2,279.2 746.7,272.8 C747.2,266.4 747.2,259.1 746.7,252.3 C746.2,245.5 745.3,238.7 743.6,231.9 C741.9,225.1 739,218.2 736.4,211.4 C733.8,204.6 730.4,197.8 728.2,191 C726,184.2 724.3,175.7 723,170.5 C721.7,165.3 720.9,161.8 720.5,160" fill="none" stroke="#141414" stroke-width="1.4" stroke-linejoin="round"/>
<path d="M517.2,175.6 l5,5.6 M522.2,175.6 l-5,5.6 M517.8,185.9 l5,5.6 M522.8,185.9 l-5,5.6 M522.7,199.2 l5,5.6 M527.7,199.2 l-5,5.6 M525,209.4 l5,5.6 M530,209.4 l-5,5.6 M528.5,220.6 l5,5.6 M533.5,220.6 l-5,5.6 M531.5,231.9 l5,5.6 M536.5,231.9 l-5,5.6 M534.5,244.2 l5,5.6 M539.5,244.2 l-5,5.6 M541.1,253.4 l5,5.6 M546.1,253.4 l-5,5.6 M545.8,264.6 l5,5.6 M550.8,264.6 l-5,5.6 M548.9,276.9 l5,5.6 M553.9,276.9 l-5,5.6 " stroke="#101830" stroke-width="1.4" fill="none"/>
<path d="M527.5,178.8 C532.1,178.6 545.3,177.9 555,177.7 C564.7,177.4 575.5,176.8 585.7,177.3 C595.9,177.8 607.9,179.5 616.4,180.8 C624.9,182.1 630,183.4 636.8,184.9 C643.6,186.4 651.6,188.3 657.3,190 C663,191.7 665.3,192.6 671,195 C676.7,197.4 685.9,201.1 691.4,204.2 C696.9,207.3 700.3,209.8 703.7,213.4 C707.1,217 709.9,221.3 711.9,225.7 C713.9,230.1 716,235.9 716,240 C716,244.1 714.6,247.2 711.9,250.3 C709.2,253.4 703.4,256.3 699.6,258.5 C695.9,260.7 694.2,261.9 689.4,263.6 C684.6,265.3 676.2,267.5 671,268.7 C665.8,269.9 660.2,270.6 658,271" fill="none" stroke="#141414" stroke-width="2.9" stroke-dasharray="6,2.6"/>
<path d="M528.9,236.7 C530.8,237.6 536.2,240.1 540,242 C543.8,243.9 546.1,245.5 551.4,248 C556.7,250.5 565.8,254.6 571.9,257.2 C578,259.8 585.5,262.4 588.2,263.4" fill="none" stroke="#141414" stroke-width="2.9" stroke-dasharray="6,2.6"/>
<path d="M540,385.4 L737.5,385.2" stroke="#141414" stroke-width="3" stroke-dasharray="7.2,2.6" fill="none"/>
<text x="601.5" y="208" font-size="17.3" textLength="50" lengthAdjust="spacingAndGlyphs" fill="#141414" stroke="#141414" stroke-width="0.55">PŁUCO</text>
<text x="604" y="227.8" font-size="17.3" textLength="43.5" lengthAdjust="spacingAndGlyphs" fill="#141414" stroke="#141414" stroke-width="0.55">PIERŚ</text>
<text x="602" y="248" font-size="17.3" textLength="49.5" lengthAdjust="spacingAndGlyphs" fill="#141414" stroke="#141414" stroke-width="0.55">SERCE</text>
<text x="624" y="315.6" font-size="18.5" textLength="67.4" lengthAdjust="spacingAndGlyphs" fill="#141414" stroke="#141414" stroke-width="0.55">ŻOŁĄDEK</text>
<text x="597" y="621.8" font-size="7.2" textLength="93" lengthAdjust="spacingAndGlyphs" fill="#141414" stroke="#141414" stroke-width="0.55">POLISH COPYRIGHT 1996 W.BRATKO</text>
<!-- labels -->
<text x="25.2" y="60" font-size="13.9" textLength="74.8" lengthAdjust="spacingAndGlyphs" stroke="#141414" stroke-width="0.5">PRAWA STOPA</text>
<rect x="24.6" y="62.3" width="76.4" height="2.3" fill="#141414"/>
<text x="735" y="59.8" font-size="13.9" textLength="67" lengthAdjust="spacingAndGlyphs" stroke="#141414" stroke-width="0.5">LEWA STOPA</text>
<rect x="735" y="62" width="67.8" height="2.5" fill="#141414"/>
<text x="150.6" y="27.4" font-size="13.1" textLength="76.3" lengthAdjust="spacingAndGlyphs" stroke="#141414" stroke-width="0.5">ZATOKI GŁOWA</text>
<text x="146.2" y="40.6" font-size="13.1" textLength="85.1" lengthAdjust="spacingAndGlyphs" stroke="#141414" stroke-width="0.5">OKOLICA MÓZGU</text>
<rect x="132.9" y="43.6" width="114.3" height="3" fill="#141414"/>
<text x="533" y="36.5" font-size="13.2" textLength="166.9" lengthAdjust="spacingAndGlyphs" stroke="#141414" stroke-width="0.5">ZATOKI GŁOWA OKOLICA MÓZGU</text>
<rect x="531.8" y="40.5" width="166.2" height="3" fill="#141414"/>
<path d="M149.8,45 L110.8,148.5" stroke="#141414" stroke-width="2.4" fill="none" marker-end="url(#ah)"/>
<path d="M178.8,45 L155.4,114.6" stroke="#141414" stroke-width="2.4" fill="none" marker-end="url(#ah)"/>
<path d="M205.8,45 L192.3,94.6" stroke="#141414" stroke-width="2.4" fill="none" marker-end="url(#ah)"/>
<path d="M231.3,45 L235.4,80.8" stroke="#141414" stroke-width="2.4" fill="none" marker-end="url(#ah)"/>
<path d="M576.8,43 L575.4,79" stroke="#141414" stroke-width="2.4" fill="none" marker-end="url(#ah)"/>
<path d="M606.4,43 L620,96" stroke="#141414" stroke-width="2.4" fill="none" marker-end="url(#ah)"/>
<path d="M633.1,43 L661.5,116" stroke="#141414" stroke-width="2.4" fill="none" marker-end="url(#ah)"/>
<path d="M652.5,43 L704,144.5" stroke="#141414" stroke-width="2.4" fill="none" marker-end="url(#ah)"/>
<text x="391.2" y="44.2" font-size="13.7" textLength="29.5" lengthAdjust="spacingAndGlyphs" stroke="#141414" stroke-width="0.5">MÓZG</text>
<text x="376.9" y="66.6" font-size="13.9" textLength="59.4" lengthAdjust="spacingAndGlyphs" stroke="#141414" stroke-width="0.5">BOK KARKU</text>
<text x="374.9" y="81.3" font-size="8" textLength="61.4" lengthAdjust="spacingAndGlyphs" stroke="#141414" stroke-width="0.4">KRĘG SZCZYTOWY</text>
<text x="375.8" y="89.7" font-size="8" textLength="59.9" lengthAdjust="spacingAndGlyphs" stroke="#141414" stroke-width="0.4">KRĘG OBROTOWY</text>
<text x="389.2" y="108.6" font-size="8" textLength="39.5" lengthAdjust="spacingAndGlyphs" stroke="#141414" stroke-width="0.4">PRZYSADKA</text>
<text x="391.5" y="117.1" font-size="8" textLength="35.3" lengthAdjust="spacingAndGlyphs" stroke="#141414" stroke-width="0.4">MÓZGOWA</text>
<text x="389.6" y="125.5" font-size="8" textLength="38.4" lengthAdjust="spacingAndGlyphs" stroke="#141414" stroke-width="0.4">SZYSZYNKA</text>
<text x="365.6" y="146.8" font-size="14.1" textLength="79.9" lengthAdjust="spacingAndGlyphs" stroke="#141414" stroke-width="0.5">7 KRĄG SZYJNY</text>
<text x="338.5" y="182.2" font-size="14.4" textLength="145.9" lengthAdjust="spacingAndGlyphs" stroke="#141414" stroke-width="0.5">GARDŁO / KARK / TARCZYCA</text>
<text x="389" y="227.7" font-size="13.9" textLength="45" lengthAdjust="spacingAndGlyphs" stroke="#141414" stroke-width="0.5">GRASICA</text>
<text x="373" y="259.4" font-size="14.3" textLength="72.4" lengthAdjust="spacingAndGlyphs" stroke="#141414" stroke-width="0.5">ODPOWIEDNIE</text>
<text x="373.7" y="272.3" font-size="14.3" textLength="70.1" lengthAdjust="spacingAndGlyphs" stroke="#141414" stroke-width="0.5">DO TARCZYCY</text>
<text x="383.8" y="289" font-size="14.3" textLength="50.8" lengthAdjust="spacingAndGlyphs" stroke="#141414" stroke-width="0.5">OSKRZELA</text>
<text x="384.8" y="302" font-size="14.3" textLength="49.2" lengthAdjust="spacingAndGlyphs" stroke="#141414" stroke-width="0.5">I OKOLICE</text>
<text x="404.8" y="348.3" font-size="13.9" textLength="44.6" lengthAdjust="spacingAndGlyphs" stroke="#141414" stroke-width="0.5">PRZEŁYK</text>
<text x="396.8" y="380.8" font-size="13.9" textLength="31.7" lengthAdjust="spacingAndGlyphs" stroke="#141414" stroke-width="0.5">SPLOT</text>
<text x="383" y="394" font-size="13.9" textLength="60.8" lengthAdjust="spacingAndGlyphs" stroke="#141414" stroke-width="0.5">SŁONECZNY</text>
<text x="384.8" y="427.5" font-size="13.9" textLength="62.7" lengthAdjust="spacingAndGlyphs" stroke="#141414" stroke-width="0.5">NADNERCZE</text>
<text x="375.5" y="455.5" font-size="14.3" textLength="77.5" lengthAdjust="spacingAndGlyphs" stroke="#141414" stroke-width="0.5">DWUNASTNICA</text>
<text x="403" y="482.3" font-size="14.3" textLength="31" lengthAdjust="spacingAndGlyphs" stroke="#141414" stroke-width="0.5">NERKI</text>
<text x="383.8" y="517" font-size="14.3" textLength="79.2" lengthAdjust="spacingAndGlyphs" stroke="#141414" stroke-width="0.5">POPRZECZNICA</text>
<text x="383" y="545.5" font-size="14.3" textLength="79" lengthAdjust="spacingAndGlyphs" stroke="#141414" stroke-width="0.5">JELITO CIENKIE</text>
<text x="363.8" y="567" font-size="14.3" textLength="116.2" lengthAdjust="spacingAndGlyphs" stroke="#141414" stroke-width="0.5">PRZEWODY MOCZOWE</text>
<text x="395.2" y="599" font-size="14.3" textLength="48" lengthAdjust="spacingAndGlyphs" stroke="#141414" stroke-width="0.5">PĘCHERZ</text>
<text x="406.8" y="624" font-size="14.3" textLength="27.9" lengthAdjust="spacingAndGlyphs" stroke="#141414" stroke-width="0.5">KOŚĆ</text>
<text x="358.3" y="637.8" font-size="14.3" textLength="124.7" lengthAdjust="spacingAndGlyphs" stroke="#141414" stroke-width="0.5">KRZYŻOWA / OGONOWA</text>
<rect x="372.6" y="101" width="3.2" height="26" fill="#141414"/>
<rect x="378" y="101" width="1.1" height="26" fill="#141414"/>
<rect x="438.8" y="101" width="1.1" height="26" fill="#141414"/>
<rect x="442.2" y="101" width="3.4" height="26" fill="#141414"/>
<rect x="358.8" y="248.2" width="3.3" height="50.3" fill="#141414"/>
<rect x="363.8" y="248.2" width="1.1" height="50.3" fill="#141414"/>
<rect x="453.4" y="248.2" width="1.1" height="50.3" fill="#141414"/>
<rect x="456.1" y="248.2" width="3.3" height="50.3" fill="#141414"/>
<path d="M363.8,37.8 L295.5,68.6" stroke="#141414" stroke-width="2.4" fill="none" marker-end="url(#ah)"/>
<path d="M353,66 L262.8,90.2" stroke="#141414" stroke-width="2.4" fill="none" marker-end="url(#ah)"/>
<path d="M367,84.6 L322.2,94.9" stroke="#141414" stroke-width="2.4" fill="none" marker-end="url(#ah)"/>
<path d="M373,112.4 L298.6,104.5" stroke="#141414" stroke-width="2.4" fill="none" marker-end="url(#ah)"/>
<path d="M348.5,140 L310,143.4" stroke="#141414" stroke-width="2.4" fill="none" marker-end="url(#ah)"/>
<path d="M330,174 L283.7,147.5" stroke="#141414" stroke-width="2.4" fill="none" marker-end="url(#ah)"/>
<path d="M370.6,222.5 L307,222.5" stroke="#141414" stroke-width="2.4" fill="none" marker-end="url(#ah)"/>
<path d="M358.3,284 L246,234" stroke="#141414" stroke-width="2.4" fill="none" marker-end="url(#ah)"/>
<path d="M365.3,377.9 L221,286" stroke="#141414" stroke-width="2.4" fill="none" marker-end="url(#ah)"/>
<path d="M366,418.5 L241.8,341" stroke="#141414" stroke-width="2.4" fill="none" marker-end="url(#ah)"/>
<path d="M367.4,448.7 L254.3,379" stroke="#141414" stroke-width="2.4" fill="none" marker-end="url(#ah)"/>
<path d="M367.4,474.4 L204.6,399" stroke="#141414" stroke-width="2.4" fill="none" marker-end="url(#ah)"/>
<path d="M370,510.8 L150,395.7" stroke="#141414" stroke-width="2.4" fill="none" marker-end="url(#ah)"/>
<path d="M368.3,541.7 L183.5,451.8" stroke="#141414" stroke-width="2.4" fill="none" marker-end="url(#ah)"/>
<path d="M354.8,559.5 L244.2,492.8" stroke="#141414" stroke-width="2.4" fill="none" marker-end="url(#ah)"/>
<path d="M376.2,594 L263.8,524.6" stroke="#141414" stroke-width="2.4" fill="none" marker-end="url(#ah)"/>
<path d="M356.5,625.5 L272,575.6" stroke="#141414" stroke-width="2.4" fill="none" marker-end="url(#ah)"/>
<path d="M448.5,40 L527,67.7" stroke="#141414" stroke-width="2.4" fill="none" marker-end="url(#ah)"/>
<path d="M459,66 L549.6,91.2" stroke="#141414" stroke-width="2.4" fill="none" marker-end="url(#ah)"/>
<path d="M451.5,86 L487,95.4" stroke="#141414" stroke-width="2.4" fill="none" marker-end="url(#ah)"/>
<path d="M445,111.2 L517.9,105" stroke="#141414" stroke-width="2.4" fill="none" marker-end="url(#ah)"/>
<path d="M463.8,142.5 L502.5,146" stroke="#141414" stroke-width="2.4" fill="none" marker-end="url(#ah)"/>
<path d="M491.5,166 L520,149.5" stroke="#141414" stroke-width="2.4" fill="none" marker-end="url(#ah)"/>
<path d="M449.4,224.6 L511.5,228.6" stroke="#141414" stroke-width="2.4" fill="none" marker-end="url(#ah)"/>
<path d="M459.5,280 L577,228" stroke="#141414" stroke-width="2.4" fill="none" marker-end="url(#ah)"/>
<path d="M457.7,337.5 L536.5,259" stroke="#141414" stroke-width="2.4" fill="none" marker-end="url(#ah)"/>
<path d="M456,377.5 L607,277.6" stroke="#141414" stroke-width="2.4" fill="none" marker-end="url(#ah)"/>
<path d="M469.6,417.4 L586.4,329.4" stroke="#141414" stroke-width="2.4" fill="none" marker-end="url(#ah)"/>
<path d="M468.4,474.5 L630,393.6" stroke="#141414" stroke-width="2.4" fill="none" marker-end="url(#ah)"/>
<path d="M477,508 L676.7,386.6" stroke="#141414" stroke-width="2.4" fill="none" marker-end="url(#ah)"/>
<path d="M476.4,541 L638,451.8" stroke="#141414" stroke-width="2.4" fill="none" marker-end="url(#ah)"/>
<path d="M485.3,560.6 L592.3,492.8" stroke="#141414" stroke-width="2.4" fill="none" marker-end="url(#ah)"/>
<path d="M461,593.3 L579,522.8" stroke="#141414" stroke-width="2.4" fill="none" marker-end="url(#ah)"/>
<path d="M481,626 L576.3,572.7" stroke="#141414" stroke-width="2.4" fill="none" marker-end="url(#ah)"/>
<path d="M43,150 L181.5,162.3" stroke="#141414" stroke-width="2.4" fill="none" marker-end="url(#ah)"/>
<path d="M52.3,239.4 L107.7,243" stroke="#141414" stroke-width="2.4" fill="none" marker-end="url(#ah)"/>
<path d="M50.8,258.5 L82.5,258.5" stroke="#141414" stroke-width="2.4" fill="none" marker-end="url(#ah)"/>
<path d="M63,301.5 L147.7,273.8" stroke="#141414" stroke-width="2.4" fill="none" marker-end="url(#ah)"/>
<path d="M87,343 L135.4,333.8" stroke="#141414" stroke-width="2.4" fill="none" marker-end="url(#ah)"/>
<path d="M60.6,397.5 L84.6,397.5" stroke="#141414" stroke-width="2.4" fill="none" marker-end="url(#ah)"/>
<path d="M93.8,437.5 L138.5,437.5" stroke="#141414" stroke-width="2.4" fill="none" marker-end="url(#ah)"/>
<path d="M80,494.8 L155.4,492.3" stroke="#141414" stroke-width="2.4" fill="none" marker-end="url(#ah)"/>
<path d="M89.2,610 L187.7,580" stroke="#141414" stroke-width="2.4" fill="none" marker-end="url(#ah)"/>
<path d="M755,148.5 L625,153" stroke="#141414" stroke-width="2.4" fill="none" marker-end="url(#ah)"/>
<path d="M763.5,227.5 L709.6,230" stroke="#141414" stroke-width="2.4" fill="none" marker-end="url(#ah)"/>
<path d="M763.5,246.3 L732,246.3" stroke="#141414" stroke-width="2.4" fill="none" marker-end="url(#ah)"/>
<path d="M757.3,281.7 L674.2,266.3" stroke="#141414" stroke-width="2.4" fill="none" marker-end="url(#ah)"/>
<path d="M755.8,322.3 L723.5,323" stroke="#141414" stroke-width="2.4" fill="none" marker-end="url(#ah)"/>
<path d="M760.4,357 L685,347.7" stroke="#141414" stroke-width="2.4" fill="none" marker-end="url(#ah)"/>
<path d="M764,385.5 L740,385.5" stroke="#141414" stroke-width="2.4" fill="none" marker-end="url(#ah)"/>
<path d="M748,458.5 L691,459.4" stroke="#141414" stroke-width="2.4" fill="none" marker-end="url(#ah)"/>
<path d="M772.7,549 L649.6,557" stroke="#141414" stroke-width="2.4" fill="none" marker-end="url(#ah)"/>
<path d="M765,615.4 L648,579.4" stroke="#141414" stroke-width="2.4" fill="none" marker-end="url(#ah)"/>
<text x="11.7" y="145.4" font-size="13.9" textLength="25.3" lengthAdjust="spacingAndGlyphs" stroke="#141414" stroke-width="0.5">OCZY</text>
<text x="11.7" y="158.6" font-size="13.9" textLength="25.3" lengthAdjust="spacingAndGlyphs" stroke="#141414" stroke-width="0.5">USZY</text>
<text x="12.3" y="243.7" font-size="13.9" textLength="33.2" lengthAdjust="spacingAndGlyphs" stroke="#141414" stroke-width="0.5">RAMIĘ</text>
<text x="19" y="264" font-size="13.9" textLength="26.5" lengthAdjust="spacingAndGlyphs" stroke="#141414" stroke-width="0.5">RĘKA</text>
<text x="3" y="305" font-size="13.9" textLength="54.8" lengthAdjust="spacingAndGlyphs" stroke="#141414" stroke-width="0.5">PRZEPONA</text>
<text x="24.6" y="344" font-size="13.9" textLength="56.9" lengthAdjust="spacingAndGlyphs" stroke="#141414" stroke-width="0.5">WORECZEK</text>
<text x="25.2" y="357" font-size="13.9" textLength="55.4" lengthAdjust="spacingAndGlyphs" stroke="#141414" stroke-width="0.5">ŻÓŁCIOWY</text>
<text x="29" y="395.4" font-size="13.9" textLength="26.4" lengthAdjust="spacingAndGlyphs" stroke="#141414" stroke-width="0.5">LINIA</text>
<text x="29" y="408.3" font-size="13.9" textLength="26.4" lengthAdjust="spacingAndGlyphs" stroke="#141414" stroke-width="0.5">PASA</text>
<text x="22.5" y="434.8" font-size="13.9" textLength="59" lengthAdjust="spacingAndGlyphs" stroke="#141414" stroke-width="0.5">OKRĘŻNICA</text>
<text x="17" y="447.7" font-size="13.9" textLength="70" lengthAdjust="spacingAndGlyphs" stroke="#141414" stroke-width="0.5">WSTĘPUJĄCA</text>
<text x="29" y="486" font-size="13.9" textLength="31" lengthAdjust="spacingAndGlyphs" stroke="#141414" stroke-width="0.5">JELITO</text>
<text x="13" y="499" font-size="13.9" textLength="65.5" lengthAdjust="spacingAndGlyphs" stroke="#141414" stroke-width="0.5">KRĘTNICZO-</text>
<text x="19" y="511" font-size="13.9" textLength="52.4" lengthAdjust="spacingAndGlyphs" stroke="#141414" stroke-width="0.5">-KĄTNICZE</text>
<text x="17" y="535.4" font-size="13.9" textLength="56.8" lengthAdjust="spacingAndGlyphs" stroke="#141414" stroke-width="0.5">WYROSTEK</text>
<text x="7.7" y="548.6" font-size="13.9" textLength="74.8" lengthAdjust="spacingAndGlyphs" stroke="#141414" stroke-width="0.5">ROBACZKOWY</text>
<text x="41.5" y="610" font-size="13.9" textLength="31.7" lengthAdjust="spacingAndGlyphs" stroke="#141414" stroke-width="0.5">NERW</text>
<text x="28.6" y="623" font-size="13.9" textLength="56.9" lengthAdjust="spacingAndGlyphs" stroke="#141414" stroke-width="0.5">KULSZOWY</text>
<rect x="44.8" y="514.5" width="1.5" height="8.5" fill="#141414"/>
<text x="763.4" y="148.5" font-size="13.9" textLength="27" lengthAdjust="spacingAndGlyphs" stroke="#141414" stroke-width="0.5">OCZY</text>
<text x="763.4" y="161.7" font-size="13.9" textLength="27" lengthAdjust="spacingAndGlyphs" stroke="#141414" stroke-width="0.5">USZY</text>
<text x="771" y="232" font-size="13.9" textLength="32.5" lengthAdjust="spacingAndGlyphs" stroke="#141414" stroke-width="0.5">RAMIĘ</text>
<text x="775.8" y="251" font-size="13.9" textLength="27" lengthAdjust="spacingAndGlyphs" stroke="#141414" stroke-width="0.5">RĘKA</text>
<text x="763.6" y="288.5" font-size="13.9" textLength="55" lengthAdjust="spacingAndGlyphs" stroke="#141414" stroke-width="0.5">PRZEPONA</text>
<text x="761.3" y="327" font-size="13.9" textLength="57.5" lengthAdjust="spacingAndGlyphs" stroke="#141414" stroke-width="0.5">ŚLEDZIONA</text>
<text x="765.6" y="364" font-size="13.9" textLength="53.2" lengthAdjust="spacingAndGlyphs" stroke="#141414" stroke-width="0.5">TRZUSTKA</text>
<text x="772.7" y="386.8" font-size="13.9" textLength="26.1" lengthAdjust="spacingAndGlyphs" stroke="#141414" stroke-width="0.5">LINIA</text>
<text x="772.7" y="400" font-size="13.9" textLength="26.1" lengthAdjust="spacingAndGlyphs" stroke="#141414" stroke-width="0.5">PASA</text>
<text x="758.8" y="455.4" font-size="13.9" textLength="58.5" lengthAdjust="spacingAndGlyphs" stroke="#141414" stroke-width="0.5">OKRĘŻNICA</text>
<text x="753.6" y="468.4" font-size="13.9" textLength="67.7" lengthAdjust="spacingAndGlyphs" stroke="#141414" stroke-width="0.5">ZSTĘPUJĄCA</text>
<text x="790.5" y="556" font-size="13.9" textLength="29.9" lengthAdjust="spacingAndGlyphs" stroke="#141414" stroke-width="0.5">ESICA</text>
<text x="789.6" y="614.5" font-size="13.9" textLength="31.7" lengthAdjust="spacingAndGlyphs" stroke="#141414" stroke-width="0.5">NERW</text>
<text x="777.3" y="627.7" font-size="13.9" textLength="55.4" lengthAdjust="spacingAndGlyphs" stroke="#141414" stroke-width="0.5">KULSZOWY</text>
</svg>
</body></html>
